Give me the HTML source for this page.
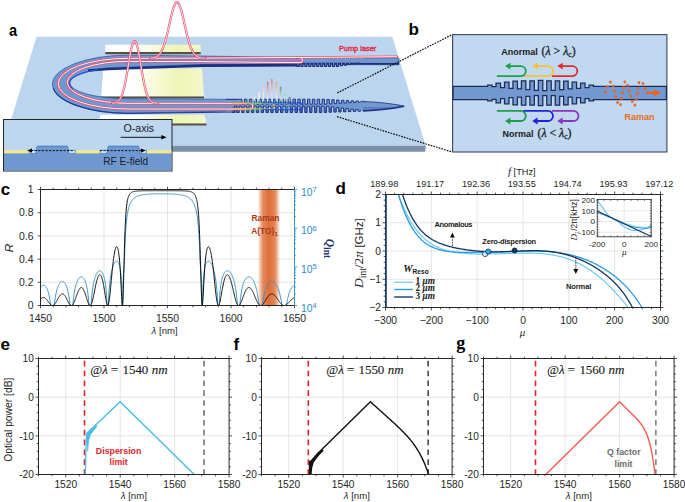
<!DOCTYPE html><html><head><meta charset="utf-8"><style>html,body{margin:0;padding:0;background:#fff;width:685px;height:502px;overflow:hidden;}svg{display:block;font-family:"Liberation Sans",sans-serif;}</style></head><body><svg width="685" height="502" viewBox="0 0 685 502"><rect width="685" height="502" fill="#fff"/>
<polygon points="36.5,36.7 392.3,36.7 425.7,145.8 3,145.8" fill="#bcd5ee"/>
<polygon points="3,145.8 425.7,145.8 425.2,151.7 3,151.7" fill="#7b91aa"/>
<defs><linearGradient id="elg" x1="0" x2="1" y1="0" y2="0"><stop offset="0" stop-color="#ffffff"/><stop offset="0.3" stop-color="#ffffff"/><stop offset="0.75" stop-color="#eef5b4"/><stop offset="1" stop-color="#f4f7cc"/></linearGradient></defs>
<polygon points="105.3,44.8 200.7,44.8 200.7,52.0 105.3,52.0" fill="url(#elg)"/>
<polygon points="105.3,52.0 200.7,52.0 200.7,54.2 105.3,54.2" fill="#57523f"/>
<polygon points="103.3,68.6 202,68.6 204,96.4 101.2,96.4" fill="url(#elg)"/>
<polygon points="101.2,96.4 204,96.4 204,98.60000000000001 101.2,98.60000000000001" fill="#57523f"/>
<polygon points="100,114.8 204.5,114.8 206.5,123.4 99.5,123.4" fill="url(#elg)"/>
<polygon points="99.5,123.4 206.5,123.4 206.5,125.60000000000001 99.5,125.60000000000001" fill="#57523f"/>
<path d="M399,58.0 L300,57.6 L200,56 L128,55.15 A75.7,29.1 0 0 0 128,113.35 L230,111 L238,111 L238,99.4 L128,98.7 A58.2,15.8 0 0 1 128,67.10000000000001 L200,64.5 L300,64.5 L399,64.8 Z" fill="#7098d0" stroke="#2d4f9e" stroke-width="0.7"/>
<path d="M88,69.30000000000001 Q118,67.10000000000001 128,67.10000000000001 L200,64.6 L300,64.6 L300,66.6 L200,67 L128,69.50000000000001 Q108,69.7 88,71.7 Z" fill="#1c2f7e"/>
<path d="M72.8,88.9 A58.2,15.8 0 0 1 98,69.7" fill="none" stroke="#2258d8" stroke-width="1.2"/>
<path d="M53.3,88.25 A75.7,29.1 0 0 0 128,113.35 L238,112" fill="none" stroke="#1f3d96" stroke-width="1.2"/>
<path d="M200,64.4 L300,63.6 L300,62.9 L399,63.0 L399,64.8 L300,64.4 L200,67 Z" fill="#1c2f7e"/>
<path d="M297,63.2 L297,66.4 L299,66.4 L299,63.2 L300.95,63.2 L300.95,66.4 L302.95,66.4 L302.95,63.2 L304.9,63.2 L304.9,66.4 L306.9,66.4 L306.9,63.2 L308.85,63.2 L308.85,66.4 L310.85,66.4 L310.85,63.2 L312.8,63.2 L312.8,66.4 L314.8,66.4 L314.8,63.2 L316.75,63.2 L316.75,66.4 L318.75,66.4 L318.75,63.2 L320.7,63.2 L320.7,66.4 L322.7,66.4 L322.7,63.2 L324.65,63.2 L324.65,66.4 L326.65,66.4 L326.65,63.2 L328.6,63.2 L328.6,66.4 L330.6,66.4 L330.6,63.2 L332.55,63.2 L332.55,66.4 L334.55,66.4 L334.55,63.2 L336.5,63.2 L336.5,66.4 L338.5,66.4 L338.5,63.2 L340.45,63.2 L340.45,65.76 L342.45,65.76 L342.45,63.2 L344.4,63.2 L344.4,65.12 L346.4,65.12 L346.4,63.2 L348.35,63.2 L348.35,64.48 L350.35,64.48 L350.35,63.2 L352.3,63.2 L352.3,63.84 L354.3,63.84 L354.3,63.2 L356.25,63.2 L356.25,63.2 L358.25,63.2 L358.25,63.2 L360.2,63.2 L360.2,62 L297,62 Z" fill="#6a8fcb"/>
<path d="M297,63.2 L297,66.4 L299,66.4 L299,63.2 L300.95,63.2 L300.95,66.4 L302.95,66.4 L302.95,63.2 L304.9,63.2 L304.9,66.4 L306.9,66.4 L306.9,63.2 L308.85,63.2 L308.85,66.4 L310.85,66.4 L310.85,63.2 L312.8,63.2 L312.8,66.4 L314.8,66.4 L314.8,63.2 L316.75,63.2 L316.75,66.4 L318.75,66.4 L318.75,63.2 L320.7,63.2 L320.7,66.4 L322.7,66.4 L322.7,63.2 L324.65,63.2 L324.65,66.4 L326.65,66.4 L326.65,63.2 L328.6,63.2 L328.6,66.4 L330.6,66.4 L330.6,63.2 L332.55,63.2 L332.55,66.4 L334.55,66.4 L334.55,63.2 L336.5,63.2 L336.5,66.4 L338.5,66.4 L338.5,63.2 L340.45,63.2 L340.45,65.76 L342.45,65.76 L342.45,63.2 L344.4,63.2 L344.4,65.12 L346.4,65.12 L346.4,63.2 L348.35,63.2 L348.35,64.48 L350.35,64.48 L350.35,63.2 L352.3,63.2 L352.3,63.84 L354.3,63.84 L354.3,63.2 L356.25,63.2 L356.25,63.2 L358.25,63.2 L358.25,63.2 L360.2,63.2" fill="none" stroke="#1c2f7e" stroke-width="1.1"/>
<path d="M306,56.4 L306,58.6 M309.95,56.4 L309.95,58.6 M313.9,56.4 L313.9,58.6 M317.85,56.4 L317.85,58.6 M321.8,56.4 L321.8,58.6 M325.75,56.4 L325.75,58.6 M329.7,56.4 L329.7,58.6 M333.65,56.4 L333.65,58.6 M337.6,56.4 L337.6,58.6 M341.55,56.4 L341.55,58.6 M345.5,56.4 L345.5,58.6 M349.45,56.4 L349.45,58.6 M353.4,56.4 L353.4,58.6 M357.35,56.4 L357.35,58.6 M361.3,56.4 L361.3,58.6" stroke="#ffffff" stroke-width="0.9" opacity="0.75"/>
<path d="M226,99.4 L239,99.4 L239.6,99.2 L242.03,99.2 L242.03,104.2 L244.45,104.2 L244.45,99.2 L246.88,99.2 L246.88,104.2 L249.3,104.2 L249.3,99.2 L251.72,99.2 L251.72,104.2 L254.15,104.2 L254.15,99.2 L256.57,99.2 L256.57,104.2 L259,104.2 L259,99.2 L261.43,99.2 L261.43,104.2 L263.85,104.2 L263.85,99.2 L266.28,99.2 L266.28,104.2 L268.7,104.2 L268.7,99.2 L271.13,99.2 L271.13,104.2 L273.55,104.2 L273.55,99.2 L275.98,99.2 L275.98,104.2 L278.4,104.2 L278.4,99.2 L280.83,99.2 L280.83,104.2 L283.25,104.2 L283.25,99.2 L285.68,99.2 L285.68,104.2 L288.1,104.2 L288.1,99.2 L290.53,99.2 L290.53,104.2 L292.95,104.2 L292.95,99.2 L295.38,99.2 L295.38,104.2 L297.8,104.2 L297.8,99.2 L300.23,99.2 L300.23,104.2 L302.65,104.2 L302.65,99.2 L305.08,99.2 L305.08,104.2 L307.5,104.2 L307.5,99.2 L309.93,99.2 L309.93,104.2 L312.35,104.2 L312.35,99.2 L314.78,99.2 L314.78,104.2 L317.2,104.2 L317.2,99.2 L319.63,99.2 L319.63,104.2 L322.05,104.2 L322.05,99.2 L324.48,99.2 L324.48,104.2 L326.9,104.2 L326.9,99.47 L329.33,99.47 L329.33,103.91 L331.75,103.91 L331.75,99.73 L334.18,99.73 L334.18,103.62 L336.6,103.62 L336.6,100 L339.03,100 L339.03,103.34 L341.45,103.34 L341.45,100.26 L343.88,100.26 L343.88,103.05 L346.3,103.05 L346.3,100.53 L348.73,100.53 L348.73,102.76 L351.15,102.76 L351.15,100.79 L353.58,100.79 L353.58,102.48 L356,102.48 L356,101.05 L358.43,101.05 L358.43,102.19 L360.85,102.19 L360.85,101.31 L363.28,101.31 L363.28,101.91 L365.7,101.91 L363,101.6 L363,111 L362.95,110.14 L360.53,110.14 L360.53,111.27 L358.1,111.27 L358.1,109.61 L355.68,109.61 L355.68,111.43 L353.25,111.43 L353.25,109.08 L350.83,109.08 L350.83,111.6 L348.4,111.6 L348.4,108.55 L345.98,108.55 L345.98,111.77 L343.55,111.77 L343.55,108.02 L341.13,108.02 L341.13,111.93 L338.7,111.93 L338.7,107.49 L336.28,107.49 L336.28,112.1 L333.85,112.1 L333.85,106.96 L331.43,106.96 L331.43,112.26 L329,112.26 L329,106.43 L326.58,106.43 L326.58,112.43 L324.15,112.43 L324.15,106.2 L321.73,106.2 L321.73,112.5 L319.3,112.5 L319.3,106.2 L316.88,106.2 L316.88,112.5 L314.45,112.5 L314.45,106.2 L312.03,106.2 L312.03,112.5 L309.6,112.5 L309.6,106.2 L307.18,106.2 L307.18,112.5 L304.75,112.5 L304.75,106.2 L302.33,106.2 L302.33,112.5 L299.9,112.5 L299.9,106.2 L297.48,106.2 L297.48,112.5 L295.05,112.5 L295.05,106.2 L292.63,106.2 L292.63,112.5 L290.2,112.5 L290.2,106.2 L287.78,106.2 L287.78,112.5 L285.35,112.5 L285.35,106.2 L282.93,106.2 L282.93,112.5 L280.5,112.5 L280.5,106.2 L278.08,106.2 L278.08,112.5 L275.65,112.5 L275.65,106.2 L273.23,106.2 L273.23,112.5 L270.8,112.5 L270.8,106.2 L268.38,106.2 L268.38,112.5 L265.95,112.5 L265.95,106.2 L263.53,106.2 L263.53,112.5 L261.1,112.5 L261.1,106.2 L258.68,106.2 L258.68,112.5 L256.25,112.5 L256.25,106.2 L253.82,106.2 L253.82,112.5 L251.4,112.5 L251.4,106.2 L248.97,106.2 L248.97,112.5 L246.55,112.5 L246.55,106.2 L244.12,106.2 L244.12,112.5 L241.7,112.5 L241.7,106.2 L239.28,106.2 L239.28,112.5 L236.85,112.5 L236.85,106.2 L234.43,106.2 L234.43,112.5 L232,112.5 L232,111.4 L226,111.4 Z" fill="#7098d0"/>
<path d="M232.3,107 L232.3,112.2 L234.12,112.2 L234.12,107 Z M237.15,107 L237.15,112.2 L238.97,112.2 L238.97,107 Z M242,107 L242,112.2 L243.82,112.2 L243.82,107 Z M246.85,107 L246.85,112.2 L248.67,112.2 L248.67,107 Z M251.7,107 L251.7,112.2 L253.52,112.2 L253.52,107 Z M256.55,107 L256.55,112.2 L258.38,112.2 L258.38,107 Z M261.4,107 L261.4,112.2 L263.23,112.2 L263.23,107 Z M266.25,107 L266.25,112.2 L268.08,112.2 L268.08,107 Z M271.1,107 L271.1,112.2 L272.93,112.2 L272.93,107 Z M275.95,107 L275.95,112.2 L277.78,112.2 L277.78,107 Z M280.8,107 L280.8,112.2 L282.63,112.2 L282.63,107 Z M285.65,107 L285.65,112.2 L287.48,112.2 L287.48,107 Z M290.5,107 L290.5,112.2 L292.33,112.2 L292.33,107 Z M295.35,107 L295.35,112.2 L297.18,112.2 L297.18,107 Z M300.2,107 L300.2,112.2 L302.03,112.2 L302.03,107 Z M305.05,107 L305.05,112.2 L306.88,112.2 L306.88,107 Z M309.9,107 L309.9,112.2 L311.73,112.2 L311.73,107 Z M314.75,107 L314.75,112.2 L316.58,112.2 L316.58,107 Z M319.6,107 L319.6,112.2 L321.43,112.2 L321.43,107 Z M324.45,107.23 L324.45,112.13 L326.28,112.13 L326.28,107.23 Z M329.3,107.76 L329.3,111.96 L331.13,111.96 L331.13,107.76 Z M334.15,108.29 L334.15,111.8 L335.98,111.8 L335.98,108.29 Z M339,108.82 L339,111.63 L340.83,111.63 L340.83,108.82 Z M343.85,109.35 L343.85,111.47 L345.68,111.47 L345.68,109.35 Z M348.7,109.88 L348.7,111.3 L350.53,111.3 L350.53,109.88 Z M353.55,110.41 L353.55,111.13 L355.38,111.13 L355.38,110.41 Z M358.4,110.94 L358.4,110.97 L360.23,110.97 L360.23,110.94 Z" fill="#4466b4"/>
<path d="M226,99.4 L239,99.4 L239.6,99.2 L242.03,99.2 L242.03,104.2 L244.45,104.2 L244.45,99.2 L246.88,99.2 L246.88,104.2 L249.3,104.2 L249.3,99.2 L251.72,99.2 L251.72,104.2 L254.15,104.2 L254.15,99.2 L256.57,99.2 L256.57,104.2 L259,104.2 L259,99.2 L261.43,99.2 L261.43,104.2 L263.85,104.2 L263.85,99.2 L266.28,99.2 L266.28,104.2 L268.7,104.2 L268.7,99.2 L271.13,99.2 L271.13,104.2 L273.55,104.2 L273.55,99.2 L275.98,99.2 L275.98,104.2 L278.4,104.2 L278.4,99.2 L280.83,99.2 L280.83,104.2 L283.25,104.2 L283.25,99.2 L285.68,99.2 L285.68,104.2 L288.1,104.2 L288.1,99.2 L290.53,99.2 L290.53,104.2 L292.95,104.2 L292.95,99.2 L295.38,99.2 L295.38,104.2 L297.8,104.2 L297.8,99.2 L300.23,99.2 L300.23,104.2 L302.65,104.2 L302.65,99.2 L305.08,99.2 L305.08,104.2 L307.5,104.2 L307.5,99.2 L309.93,99.2 L309.93,104.2 L312.35,104.2 L312.35,99.2 L314.78,99.2 L314.78,104.2 L317.2,104.2 L317.2,99.2 L319.63,99.2 L319.63,104.2 L322.05,104.2 L322.05,99.2 L324.48,99.2 L324.48,104.2 L326.9,104.2 L326.9,99.47 L329.33,99.47 L329.33,103.91 L331.75,103.91 L331.75,99.73 L334.18,99.73 L334.18,103.62 L336.6,103.62 L336.6,100 L339.03,100 L339.03,103.34 L341.45,103.34 L341.45,100.26 L343.88,100.26 L343.88,103.05 L346.3,103.05 L346.3,100.53 L348.73,100.53 L348.73,102.76 L351.15,102.76 L351.15,100.79 L353.58,100.79 L353.58,102.48 L356,102.48 L356,101.05 L358.43,101.05 L358.43,102.19 L360.85,102.19 L360.85,101.31 L363.28,101.31 L363.28,101.91 L365.7,101.91 L363,101.6" fill="none" stroke="#1c2f7e" stroke-width="0.95" stroke-linejoin="miter"/>
<path d="M363,111 L362.95,110.14 L360.53,110.14 L360.53,111.27 L358.1,111.27 L358.1,109.61 L355.68,109.61 L355.68,111.43 L353.25,111.43 L353.25,109.08 L350.83,109.08 L350.83,111.6 L348.4,111.6 L348.4,108.55 L345.98,108.55 L345.98,111.77 L343.55,111.77 L343.55,108.02 L341.13,108.02 L341.13,111.93 L338.7,111.93 L338.7,107.49 L336.28,107.49 L336.28,112.1 L333.85,112.1 L333.85,106.96 L331.43,106.96 L331.43,112.26 L329,112.26 L329,106.43 L326.58,106.43 L326.58,112.43 L324.15,112.43 L324.15,106.2 L321.73,106.2 L321.73,112.5 L319.3,112.5 L319.3,106.2 L316.88,106.2 L316.88,112.5 L314.45,112.5 L314.45,106.2 L312.03,106.2 L312.03,112.5 L309.6,112.5 L309.6,106.2 L307.18,106.2 L307.18,112.5 L304.75,112.5 L304.75,106.2 L302.33,106.2 L302.33,112.5 L299.9,112.5 L299.9,106.2 L297.48,106.2 L297.48,112.5 L295.05,112.5 L295.05,106.2 L292.63,106.2 L292.63,112.5 L290.2,112.5 L290.2,106.2 L287.78,106.2 L287.78,112.5 L285.35,112.5 L285.35,106.2 L282.93,106.2 L282.93,112.5 L280.5,112.5 L280.5,106.2 L278.08,106.2 L278.08,112.5 L275.65,112.5 L275.65,106.2 L273.23,106.2 L273.23,112.5 L270.8,112.5 L270.8,106.2 L268.38,106.2 L268.38,112.5 L265.95,112.5 L265.95,106.2 L263.53,106.2 L263.53,112.5 L261.1,112.5 L261.1,106.2 L258.68,106.2 L258.68,112.5 L256.25,112.5 L256.25,106.2 L253.82,106.2 L253.82,112.5 L251.4,112.5 L251.4,106.2 L248.97,106.2 L248.97,112.5 L246.55,112.5 L246.55,106.2 L244.12,106.2 L244.12,112.5 L241.7,112.5 L241.7,106.2 L239.28,106.2 L239.28,112.5 L236.85,112.5 L236.85,106.2 L234.43,106.2 L234.43,112.5 L232,112.5 L232,111.4" fill="none" stroke="#1c2f7e" stroke-width="0.95" stroke-linejoin="miter"/>
<path d="M360.5,101.6 L363,101.6 Q386,102.2 404.2,106.2 Q386,110.2 363,111 L360.5,111 Z" fill="#7399d2"/>
<path d="M362,101.6 L363,101.6 Q386,102.2 404.2,106.2" fill="none" stroke="#1c2f7e" stroke-width="0.8"/>
<path d="M363,106.8 Q386,107.4 404.2,106.2 Q386,109.6 363,110.6 Z" fill="#5a7fc2"/>
<path d="M363,110.9 Q386,110 404.2,106.2" fill="none" stroke="#1c2f7e" stroke-width="1.5"/>
<path d="M397,56.7 L300,57.5 L200,58.1 L128,58.3 A69.8,25.35 0 0 0 128,109 L250,109 A2.85,2.85 0 0 0 250,103.3 L128,103.3 A60.7,20.95 0 0 1 128,61.4 L200,61.6 L300,62.6 A2.55,2.55 0 0 0 300,57.5" fill="none" stroke="#e84a6a" stroke-width="2.3" stroke-linejoin="round" stroke-linecap="round"/>
<path d="M397,56.7 L300,57.5 L200,58.1 L128,58.3 A69.8,25.35 0 0 0 128,109 L250,109 A2.85,2.85 0 0 0 250,103.3 L128,103.3 A60.7,20.95 0 0 1 128,61.4 L200,61.6 L300,62.6 A2.55,2.55 0 0 0 300,57.5" fill="none" stroke="#ffffff" stroke-width="0.9499999999999997" stroke-linejoin="round"/>
<path d="M112,103.2 L112.58,103.16 L113.16,103.11 L113.75,103.04 L114.33,102.95 L114.91,102.83 L115.49,102.67 L116.08,102.47 L116.66,102.22 L117.24,101.9 L117.82,101.5 L118.41,101.01 L118.99,100.41 L119.57,99.68 L120.15,98.81 L120.73,97.77 L121.32,96.55 L121.9,95.14 L122.48,93.51 L123.06,91.65 L123.65,89.56 L124.23,87.23 L124.81,84.67 L125.39,81.89 L125.97,78.9 L126.56,75.72 L127.14,72.4 L127.72,68.97 L128.3,65.49 L128.89,62.01 L129.47,58.59 L130.05,55.3 L130.63,52.2 L131.22,49.37 L131.8,46.87 L132.38,44.75 L132.96,43.07 L133.54,41.87 L134.13,41.18 L134.71,41.01 L135.29,41.37 L135.87,42.26 L136.46,43.64 L137.04,45.49 L137.62,47.76 L138.2,50.4 L138.78,53.33 L139.37,56.51 L139.95,59.86 L140.53,63.31 L141.11,66.8 L141.7,70.26 L142.28,73.66 L142.86,76.93 L143.44,80.04 L144.03,82.96 L144.61,85.66 L145.19,88.13 L145.77,90.37 L146.35,92.37 L146.94,94.14 L147.52,95.69 L148.1,97.03 L148.68,98.18 L149.27,99.15 L149.85,99.97 L150.43,100.65 L151.01,101.21 L151.59,101.66 L152.18,102.03 L152.76,102.32 L153.34,102.55 L153.92,102.74 L154.51,102.88 L155.09,102.99 L155.67,103.07 L156.25,103.13 L156.84,103.18 L157.42,103.21 L158,103.24" fill="none" stroke="#e84a6a" stroke-width="2.2" stroke-linejoin="round" stroke-linecap="round"/>
<path d="M112,103.2 L112.58,103.16 L113.16,103.11 L113.75,103.04 L114.33,102.95 L114.91,102.83 L115.49,102.67 L116.08,102.47 L116.66,102.22 L117.24,101.9 L117.82,101.5 L118.41,101.01 L118.99,100.41 L119.57,99.68 L120.15,98.81 L120.73,97.77 L121.32,96.55 L121.9,95.14 L122.48,93.51 L123.06,91.65 L123.65,89.56 L124.23,87.23 L124.81,84.67 L125.39,81.89 L125.97,78.9 L126.56,75.72 L127.14,72.4 L127.72,68.97 L128.3,65.49 L128.89,62.01 L129.47,58.59 L130.05,55.3 L130.63,52.2 L131.22,49.37 L131.8,46.87 L132.38,44.75 L132.96,43.07 L133.54,41.87 L134.13,41.18 L134.71,41.01 L135.29,41.37 L135.87,42.26 L136.46,43.64 L137.04,45.49 L137.62,47.76 L138.2,50.4 L138.78,53.33 L139.37,56.51 L139.95,59.86 L140.53,63.31 L141.11,66.8 L141.7,70.26 L142.28,73.66 L142.86,76.93 L143.44,80.04 L144.03,82.96 L144.61,85.66 L145.19,88.13 L145.77,90.37 L146.35,92.37 L146.94,94.14 L147.52,95.69 L148.1,97.03 L148.68,98.18 L149.27,99.15 L149.85,99.97 L150.43,100.65 L151.01,101.21 L151.59,101.66 L152.18,102.03 L152.76,102.32 L153.34,102.55 L153.92,102.74 L154.51,102.88 L155.09,102.99 L155.67,103.07 L156.25,103.13 L156.84,103.18 L157.42,103.21 L158,103.24" fill="none" stroke="#ffffff" stroke-width="0.8500000000000001" stroke-linejoin="round"/>
<path d="M150,58.1 L150.7,58.06 L151.39,58.01 L152.09,57.94 L152.78,57.85 L153.48,57.73 L154.18,57.58 L154.87,57.39 L155.57,57.15 L156.27,56.84 L156.96,56.47 L157.66,56 L158.35,55.44 L159.05,54.76 L159.75,53.94 L160.44,52.98 L161.14,51.85 L161.84,50.55 L162.53,49.05 L163.23,47.36 L163.92,45.45 L164.62,43.34 L165.32,41.02 L166.01,38.51 L166.71,35.81 L167.41,32.96 L168.1,29.98 L168.8,26.92 L169.49,23.82 L170.19,20.72 L170.89,17.68 L171.58,14.76 L172.28,12.03 L172.97,9.53 L173.67,7.32 L174.37,5.46 L175.06,3.99 L175.76,2.94 L176.46,2.34 L177.15,2.21 L177.85,2.55 L178.54,3.34 L179.24,4.58 L179.94,6.23 L180.63,8.25 L181.33,10.59 L182.03,13.2 L182.72,16.02 L183.42,18.99 L184.11,22.06 L184.81,25.17 L185.51,28.27 L186.2,31.3 L186.9,34.22 L187.59,37.01 L188.29,39.63 L188.99,42.06 L189.68,44.29 L190.38,46.31 L191.08,48.12 L191.77,49.73 L192.47,51.14 L193.16,52.37 L193.86,53.42 L194.56,54.32 L195.25,55.07 L195.95,55.7 L196.65,56.22 L197.34,56.64 L198.04,56.99 L198.73,57.26 L199.43,57.48 L200.13,57.65 L200.82,57.79 L201.52,57.89 L202.22,57.97 L202.91,58.03 L203.61,58.08 L204.3,58.11 L205,58.14" fill="none" stroke="#e84a6a" stroke-width="2.2" stroke-linejoin="round" stroke-linecap="round"/>
<path d="M150,58.1 L150.7,58.06 L151.39,58.01 L152.09,57.94 L152.78,57.85 L153.48,57.73 L154.18,57.58 L154.87,57.39 L155.57,57.15 L156.27,56.84 L156.96,56.47 L157.66,56 L158.35,55.44 L159.05,54.76 L159.75,53.94 L160.44,52.98 L161.14,51.85 L161.84,50.55 L162.53,49.05 L163.23,47.36 L163.92,45.45 L164.62,43.34 L165.32,41.02 L166.01,38.51 L166.71,35.81 L167.41,32.96 L168.1,29.98 L168.8,26.92 L169.49,23.82 L170.19,20.72 L170.89,17.68 L171.58,14.76 L172.28,12.03 L172.97,9.53 L173.67,7.32 L174.37,5.46 L175.06,3.99 L175.76,2.94 L176.46,2.34 L177.15,2.21 L177.85,2.55 L178.54,3.34 L179.24,4.58 L179.94,6.23 L180.63,8.25 L181.33,10.59 L182.03,13.2 L182.72,16.02 L183.42,18.99 L184.11,22.06 L184.81,25.17 L185.51,28.27 L186.2,31.3 L186.9,34.22 L187.59,37.01 L188.29,39.63 L188.99,42.06 L189.68,44.29 L190.38,46.31 L191.08,48.12 L191.77,49.73 L192.47,51.14 L193.16,52.37 L193.86,53.42 L194.56,54.32 L195.25,55.07 L195.95,55.7 L196.65,56.22 L197.34,56.64 L198.04,56.99 L198.73,57.26 L199.43,57.48 L200.13,57.65 L200.82,57.79 L201.52,57.89 L202.22,57.97 L202.91,58.03 L203.61,58.08 L204.3,58.11 L205,58.14" fill="none" stroke="#ffffff" stroke-width="0.8500000000000001" stroke-linejoin="round"/>
<path d="M232,103.6 L271.5,103.6 A2.6,2.6 0 0 1 271.5,108.8 L232,108.8" fill="none" stroke="#f5c040" stroke-width="0.9"/>
<path d="M246,103.19999999999999 L285.5,103.19999999999999 A2.6,2.6 0 0 1 285.5,109.2 L246,109.2" fill="none" stroke="#50d080" stroke-width="0.9"/>
<path d="M262,102.8 L300,102.8 A2.6,2.6 0 0 1 300,109.6 L262,109.6" fill="none" stroke="#2040e8" stroke-width="0.9"/>
<defs>
<linearGradient id="cg0" x1="0" x2="0" y1="0" y2="1"><stop offset="0" stop-color="#ffffff"/><stop offset="1" stop-color="#ffffff" stop-opacity="0.6"/></linearGradient>
<linearGradient id="cg1" x1="0" x2="0" y1="0" y2="1"><stop offset="0" stop-color="#fbe8e8"/><stop offset="1" stop-color="#ffffff" stop-opacity="0.6"/></linearGradient>
<linearGradient id="cg2" x1="0" x2="0" y1="0" y2="1"><stop offset="0" stop-color="#f1c9b8"/><stop offset="1" stop-color="#ffffff" stop-opacity="0.6"/></linearGradient>
<linearGradient id="cg3" x1="0" x2="0" y1="0" y2="1"><stop offset="0" stop-color="#e06777"/><stop offset="1" stop-color="#ffffff" stop-opacity="0.6"/></linearGradient>
<linearGradient id="cg4" x1="0" x2="0" y1="0" y2="1"><stop offset="0" stop-color="#e37d8a"/><stop offset="1" stop-color="#ffffff" stop-opacity="0.6"/></linearGradient>
<linearGradient id="cg5" x1="0" x2="0" y1="0" y2="1"><stop offset="0" stop-color="#deb060"/><stop offset="1" stop-color="#ffffff" stop-opacity="0.6"/></linearGradient>
<linearGradient id="cg6" x1="0" x2="0" y1="0" y2="1"><stop offset="0" stop-color="#5f8f65"/><stop offset="1" stop-color="#ffffff" stop-opacity="0.6"/></linearGradient>
<linearGradient id="cg7" x1="0" x2="0" y1="0" y2="1"><stop offset="0" stop-color="#6fd496"/><stop offset="1" stop-color="#ffffff" stop-opacity="0.6"/></linearGradient>
<linearGradient id="cg8" x1="0" x2="0" y1="0" y2="1"><stop offset="0" stop-color="#404848"/><stop offset="1" stop-color="#ffffff" stop-opacity="0.6"/></linearGradient>
</defs>
<rect x="253.7" y="97.1" width="1.6" height="3.9" fill="url(#cg0)"/>
<rect x="258.2" y="92" width="1.6" height="9" fill="url(#cg1)"/>
<rect x="262.7" y="86.9" width="1.6" height="14.1" fill="url(#cg2)"/>
<rect x="266.9" y="81.9" width="1.6" height="19.1" fill="url(#cg3)"/>
<rect x="271" y="79.1" width="1.6" height="21.9" fill="url(#cg4)"/>
<rect x="275.6" y="82" width="1.6" height="19" fill="url(#cg5)"/>
<rect x="279.8" y="86.9" width="1.6" height="14.1" fill="url(#cg6)"/>
<rect x="284.1" y="94" width="1.6" height="7" fill="url(#cg7)"/>
<rect x="288.8" y="97.1" width="1.6" height="3.9" fill="url(#cg8)"/>
<text x="338.9" y="50.9" font-size="7.4" text-anchor="start" font-weight="normal" font-style="normal" fill="#e8213f" font-family="Liberation Sans" stroke="#e8213f" stroke-width="0.35">Pump laser</text>
<text transform="translate(9.0,35.8) scale(0.86,1)" font-size="17" font-weight="bold" fill="#000" font-family="Liberation Sans">a</text>
<rect x="3.5" y="119.5" width="168.5" height="51.5" fill="#bdd7ee" stroke="#262626" stroke-width="1"/>
<rect x="4" y="153.2" width="167.5" height="17.4" fill="#7098d0"/>
<rect x="4" y="150.2" width="167.5" height="3.1" fill="#f5e98a"/>
<rect x="29.2" y="150.2" width="7.4" height="3.1" fill="#d6e7f7" stroke="#3a7ac8" stroke-width="0.7"/>
<rect x="68.2" y="150.2" width="7.1" height="3.1" fill="#d6e7f7" stroke="#3a7ac8" stroke-width="0.7"/>
<polygon points="35.800000000000004,153.4 37.2,146.1 67.60000000000001,146.1 69.0,153.4" fill="#7098d0" stroke="#3a7ac8" stroke-width="0.8"/>
<rect x="36.6" y="151.5" width="31.6" height="2.5" fill="#7098d0"/>
<rect x="100.2" y="150.2" width="7.4" height="3.1" fill="#d6e7f7" stroke="#3a7ac8" stroke-width="0.7"/>
<rect x="139.2" y="150.2" width="7.1" height="3.1" fill="#d6e7f7" stroke="#3a7ac8" stroke-width="0.7"/>
<polygon points="106.8,153.4 108.19999999999999,146.1 138.6,146.1 140.0,153.4" fill="#7098d0" stroke="#3a7ac8" stroke-width="0.8"/>
<rect x="107.6" y="151.5" width="31.6" height="2.5" fill="#7098d0"/>
<line x1="31" y1="150.6" x2="74" y2="150.6" stroke="#000" stroke-width="0.9" stroke-dasharray="2.2,1.4"/>
<polygon points="27.2,150.6 32,148.4 32,152.8" fill="#000"/>
<line x1="99.8" y1="150.6" x2="141.5" y2="150.6" stroke="#000" stroke-width="0.9" stroke-dasharray="2.2,1.4"/>
<polygon points="145.6,150.6 140.8,148.4 140.8,152.8" fill="#000"/>
<text x="103.3" y="164.7" font-size="10.1" text-anchor="start" font-weight="normal" font-style="normal" fill="#1b1b2b" font-family="Liberation Sans" >RF E-field</text>
<text x="123.5" y="132" font-size="10.6" text-anchor="start" font-weight="normal" font-style="normal" fill="#1b1b2b" font-family="Liberation Sans" >O-axis</text>
<line x1="120.7" y1="137.3" x2="162" y2="137.3" stroke="#000" stroke-width="0.9"/>
<polygon points="166.6,137.3 161.4,135.1 161.4,139.5" fill="#000"/>
<line x1="337.3" y1="92.9" x2="452.2" y2="34.6" stroke="#111" stroke-width="1.2" stroke-dasharray="1.7,1.1"/>
<line x1="337" y1="116.6" x2="452.2" y2="152" stroke="#111" stroke-width="1.2" stroke-dasharray="1.7,1.1"/>
<text x="408.4" y="35.4" font-size="17" text-anchor="start" font-weight="bold" font-style="normal" fill="#000" font-family="Liberation Sans" >b</text>
<rect x="452.6" y="34.6" width="214.3" height="117.4" fill="#c0d9f1" stroke="#3b4862" stroke-width="1.1"/>
<path d="M453.1,86.4 L487.6,86.4 L487.6,86.4 L487.6,85.1 L492.1,85.1 L492.1,86.6 L496.05,86.6 L496.05,86.4 L496.05,83.1 L500.55,83.1 L500.55,87.5 L504.5,87.5 L504.5,86.4 L504.5,82.2 L509,82.2 L509,88.4 L512.95,88.4 L512.95,86.4 L512.95,81.1 L517.45,81.1 L517.45,88.8 L521.4,88.8 L521.4,86.4 L521.4,80.8 L525.9,80.8 L525.9,89.7 L529.85,89.7 L529.85,86.4 L529.85,80.8 L534.35,80.8 L534.35,90.3 L538.3,90.3 L538.3,86.4 L538.3,80.3 L542.8,80.3 L542.8,90.5 L546.75,90.5 L546.75,86.4 L546.75,80.8 L551.25,80.8 L551.25,90.3 L555.2,90.3 L555.2,86.4 L555.2,80.8 L559.7,80.8 L559.7,89.7 L563.65,89.7 L563.65,86.4 L563.65,81.1 L568.15,81.1 L568.15,88.8 L572.1,88.8 L572.1,86.4 L572.1,82.2 L576.6,82.2 L576.6,88.4 L580.55,88.4 L580.55,86.4 L580.55,83.1 L585.05,83.1 L585.05,87.5 L589,87.5 L589,86.4 L589,85.1 L593.5,85.1 L593.5,86.4 L592.8,86.4 L666.4,86.4 L666.4,99.6 L592.8,99.6 L593.5,99.6 L593.5,100.9 L589,100.9 L589,99.6 L589,98.5 L585.05,98.5 L585.05,102.9 L580.55,102.9 L580.55,99.6 L580.55,97.6 L576.6,97.6 L576.6,103.8 L572.1,103.8 L572.1,99.6 L572.1,97.2 L568.15,97.2 L568.15,104.9 L563.65,104.9 L563.65,99.6 L563.65,96.3 L559.7,96.3 L559.7,105.2 L555.2,105.2 L555.2,99.6 L555.2,95.7 L551.25,95.7 L551.25,105.2 L546.75,105.2 L546.75,99.6 L546.75,95.5 L542.8,95.5 L542.8,105.7 L538.3,105.7 L538.3,99.6 L538.3,95.7 L534.35,95.7 L534.35,105.2 L529.85,105.2 L529.85,99.6 L529.85,96.3 L525.9,96.3 L525.9,105.2 L521.4,105.2 L521.4,99.6 L521.4,97.2 L517.45,97.2 L517.45,104.9 L512.95,104.9 L512.95,99.6 L512.95,97.6 L509,97.6 L509,103.8 L504.5,103.8 L504.5,99.6 L504.5,98.5 L500.55,98.5 L500.55,102.9 L496.05,102.9 L496.05,99.6 L496.05,99.4 L492.1,99.4 L492.1,100.9 L487.6,100.9 L487.6,99.6 L487.6,99.6 L453.1,99.6 Z" fill="#7399d1" stroke="#1c2c58" stroke-width="1.25"/>
<path d="M552,76.1 L572.3,76.1 A5.0,5.0 0 0 0 572.3,66.1 L561.3,66.1" fill="none" stroke="#e8282a" stroke-width="1.8"/>
<polygon points="557.3,66.1 562.6999999999999,62.699999999999996 562.6999999999999,69.5" fill="#e8282a"/>
<path d="M523,76.1 L548.0,76.1 A5.0,5.0 0 0 0 548.0,66.1 L536.2,66.1" fill="none" stroke="#f5c232" stroke-width="1.8"/>
<polygon points="532.2,66.1 537.6,62.699999999999996 537.6,69.5" fill="#f5c232"/>
<path d="M496.9,76.1 L520.8,76.1 A5.0,5.0 0 0 0 520.8,66.1 L509,66.1" fill="none" stroke="#1e9e48" stroke-width="1.8"/>
<polygon points="505,66.1 510.4,62.699999999999996 510.4,69.5" fill="#1e9e48"/>
<path d="M552,110.9 L573.45,110.9 A5.049999999999997,5.049999999999997 0 0 1 573.45,121 L561.3,121" fill="none" stroke="#8a34c0" stroke-width="1.8"/>
<polygon points="557.3,121 562.6999999999999,117.6 562.6999999999999,124.4" fill="#8a34c0"/>
<path d="M523,110.9 L547.95,110.9 A5.049999999999997,5.049999999999997 0 0 1 547.95,121 L536.2,121" fill="none" stroke="#2222dd" stroke-width="1.8"/>
<polygon points="532.2,121 537.6,117.6 537.6,124.4" fill="#2222dd"/>
<path d="M496.9,110.9 L520.75,110.9 A5.049999999999997,5.049999999999997 0 0 1 520.75,121 L509,121" fill="none" stroke="#1e9e48" stroke-width="1.8"/>
<polygon points="505,121 510.4,117.6 510.4,124.4" fill="#1e9e48"/>
<text x="501.2" y="54.6" font-size="9" text-anchor="start" font-weight="bold" font-style="normal" fill="#1a1a1a" font-family="Liberation Sans" >Anormal</text>
<text x="541.6" y="54.6" font-size="11.8" text-anchor="start" font-weight="normal" font-style="normal" fill="#1a1a1a" font-family="Liberation Serif" stroke="#1a1a1a" stroke-width="0.3">(<tspan font-style="italic">λ</tspan> &gt; <tspan font-style="italic">λ</tspan><tspan font-size="7.5" dy="2">c</tspan><tspan dy="-2">)</tspan></text>
<text x="502.4" y="137.1" font-size="9" text-anchor="start" font-weight="bold" font-style="normal" fill="#1a1a1a" font-family="Liberation Sans" >Normal</text>
<text x="537.5" y="137.1" font-size="11.8" text-anchor="start" font-weight="normal" font-style="normal" fill="#1a1a1a" font-family="Liberation Serif" stroke="#1a1a1a" stroke-width="0.3">(<tspan font-style="italic">λ</tspan> &lt; <tspan font-style="italic">λ</tspan><tspan font-size="7.5" dy="2">c</tspan><tspan dy="-2">)</tspan></text>
<rect x="609.05" y="80.85" width="2.5" height="2.5" fill="#ea6420" transform="rotate(0 610.3 82.1)"/>
<rect x="606.05" y="85.45" width="2.5" height="2.5" fill="#ea6420" transform="rotate(37 607.3 86.7)"/>
<rect x="603.95" y="90.85" width="2.5" height="2.5" fill="#ea6420" transform="rotate(74 605.2 92.1)"/>
<rect x="612.15" y="84.75" width="2.5" height="2.5" fill="#ea6420" transform="rotate(21 613.4 86)"/>
<rect x="613.65" y="90.05" width="2.5" height="2.5" fill="#ea6420" transform="rotate(58 614.9 91.3)"/>
<rect x="614.75" y="95.75" width="2.5" height="2.5" fill="#ea6420" transform="rotate(5 616 97)"/>
<rect x="616.25" y="101.15" width="2.5" height="2.5" fill="#ea6420" transform="rotate(42 617.5 102.4)"/>
<rect x="619.25" y="103.35" width="2.5" height="2.5" fill="#ea6420" transform="rotate(79 620.5 104.6)"/>
<rect x="620.15" y="97.25" width="2.5" height="2.5" fill="#ea6420" transform="rotate(26 621.4 98.5)"/>
<rect x="621.15" y="91.65" width="2.5" height="2.5" fill="#ea6420" transform="rotate(63 622.4 92.9)"/>
<rect x="622.15" y="86.15" width="2.5" height="2.5" fill="#ea6420" transform="rotate(10 623.4 87.4)"/>
<rect x="623.55" y="80.65" width="2.5" height="2.5" fill="#ea6420" transform="rotate(47 624.8 81.9)"/>
<rect x="626.45" y="84.15" width="2.5" height="2.5" fill="#ea6420" transform="rotate(84 627.7 85.4)"/>
<rect x="627.95" y="89.85" width="2.5" height="2.5" fill="#ea6420" transform="rotate(31 629.2 91.1)"/>
<rect x="629.35" y="94.95" width="2.5" height="2.5" fill="#ea6420" transform="rotate(68 630.6 96.2)"/>
<rect x="631.05" y="100.25" width="2.5" height="2.5" fill="#ea6420" transform="rotate(15 632.3 101.5)"/>
<rect x="633.65" y="103.85" width="2.5" height="2.5" fill="#ea6420" transform="rotate(52 634.9 105.1)"/>
<rect x="635.15" y="98.05" width="2.5" height="2.5" fill="#ea6420" transform="rotate(89 636.4 99.3)"/>
<rect x="636.15" y="92.35" width="2.5" height="2.5" fill="#ea6420" transform="rotate(36 637.4 93.6)"/>
<rect x="636.85" y="87.05" width="2.5" height="2.5" fill="#ea6420" transform="rotate(73 638.1 88.3)"/>
<rect x="637.65" y="81.35" width="2.5" height="2.5" fill="#ea6420" transform="rotate(20 638.9 82.6)"/>
<rect x="641.75" y="82.15" width="2.5" height="2.5" fill="#ea6420" transform="rotate(57 643 83.4)"/>
<rect x="643.85" y="87.55" width="2.5" height="2.5" fill="#ea6420" transform="rotate(4 645.1 88.8)"/>
<line x1="646.1" y1="92.9" x2="655" y2="92.9" stroke="#ea6420" stroke-width="2.4"/>
<polygon points="661,92.9 654,89.2 654,96.6" fill="#ea6420"/>
<text x="624.4" y="119.6" font-size="9" text-anchor="start" font-weight="bold" font-style="normal" fill="#ea6a22" font-family="Liberation Sans" >Raman</text>
<line x1="104" y1="189.5" x2="104" y2="305.5" stroke="#dedede" stroke-width="0.8"/>
<line x1="167.5" y1="189.5" x2="167.5" y2="305.5" stroke="#dedede" stroke-width="0.8"/>
<line x1="231" y1="189.5" x2="231" y2="305.5" stroke="#dedede" stroke-width="0.8"/>
<line x1="40.5" y1="282.3" x2="294.5" y2="282.3" stroke="#dedede" stroke-width="0.8"/>
<line x1="40.5" y1="259.1" x2="294.5" y2="259.1" stroke="#dedede" stroke-width="0.8"/>
<line x1="40.5" y1="235.9" x2="294.5" y2="235.9" stroke="#dedede" stroke-width="0.8"/>
<line x1="40.5" y1="212.7" x2="294.5" y2="212.7" stroke="#dedede" stroke-width="0.8"/>
<defs><linearGradient id="ram" x1="0" x2="1" y1="0" y2="0"><stop offset="0" stop-color="#e27a45" stop-opacity="0.1"/><stop offset="0.22" stop-color="#e0733e" stop-opacity="0.85"/><stop offset="0.5" stop-color="#de6e38" stop-opacity="1"/><stop offset="0.78" stop-color="#e0733e" stop-opacity="0.85"/><stop offset="1" stop-color="#e27a45" stop-opacity="0.1"/></linearGradient></defs>
<rect x="258.2" y="189.5" width="21.6" height="116" fill="url(#ram)"/>
<polyline points="40.5,287.4 40.71,287.08 40.92,286.79 41.14,286.52 41.35,286.28 41.56,286.07 41.77,285.87 41.98,285.71 42.19,285.56 42.41,285.44 42.62,285.34 42.83,285.27 43.04,285.22 43.25,285.19 43.47,285.18 43.68,285.19 43.89,285.23 44.1,285.3 44.31,285.38 44.53,285.49 44.74,285.62 44.95,285.78 45.16,285.96 45.37,286.17 45.58,286.4 45.8,286.67 46.01,286.96 46.22,287.27 46.43,287.62 46.64,288 46.86,288.42 47.07,288.87 47.28,289.35 47.49,289.87 47.7,290.44 47.91,291.05 48.13,291.7 48.34,292.41 48.55,293.17 48.76,293.99 48.97,294.88 49.19,295.85 49.4,296.89 49.61,298.03 49.82,299.27 50.03,300.64 50.24,302.15 50.46,303.82 50.67,305.7 50.88,307.82 51.09,307.82 51.3,307.82 51.52,307.82 51.73,307.82 51.94,307.82 52.15,307.82 52.36,307.82 52.58,307.82 52.79,307.82 53,307.82 53.21,307.82 53.42,307.82 53.63,307.82 53.85,307.82 54.06,307.82 54.27,305.78 54.48,303.73 54.69,301.91 54.91,300.26 55.12,298.76 55.33,297.4 55.54,296.14 55.75,294.98 55.96,293.91 56.18,292.91 56.39,291.98 56.6,291.12 56.81,290.31 57.02,289.55 57.24,288.84 57.45,288.18 57.66,287.56 57.87,286.98 58.08,286.44 58.29,285.93 58.51,285.45 58.72,285.01 58.93,284.6 59.14,284.22 59.35,283.86 59.57,283.54 59.78,283.23 59.99,282.96 60.2,282.71 60.41,282.48 60.63,282.28 60.84,282.11 61.05,281.95 61.26,281.82 61.47,281.71 61.68,281.63 61.9,281.56 62.11,281.52 62.32,281.51 62.53,281.51 62.74,281.54 62.96,281.59 63.17,281.66 63.38,281.76 63.59,281.88 63.8,282.02 64.01,282.19 64.23,282.39 64.44,282.61 64.65,282.86 64.86,283.13 65.07,283.44 65.29,283.77 65.5,284.14 65.71,284.54 65.92,284.97 66.13,285.44 66.34,285.94 66.56,286.49 66.77,287.08 66.98,287.72 67.19,288.41 67.4,289.15 67.62,289.96 67.83,290.82 68.04,291.76 68.25,292.79 68.46,293.9 68.68,295.11 68.89,296.45 69.1,297.92 69.31,299.56 69.52,301.39 69.73,303.47 69.95,305.85 70.16,307.82 70.37,307.82 70.58,307.82 70.79,307.82 71.01,307.82 71.22,307.82 71.43,307.82 71.64,307.82 71.85,307.82 72.06,307.82 72.28,307.82 72.49,307.82 72.7,307.02 72.91,304.28 73.12,301.9 73.34,299.8 73.55,297.93 73.76,296.25 73.97,294.72 74.18,293.32 74.39,292.04 74.61,290.85 74.82,289.76 75.03,288.74 75.24,287.79 75.45,286.9 75.67,286.07 75.88,285.3 76.09,284.57 76.3,283.89 76.51,283.25 76.73,282.65 76.94,282.09 77.15,281.57 77.36,281.08 77.57,280.62 77.78,280.19 78,279.79 78.21,279.42 78.42,279.08 78.63,278.77 78.84,278.48 79.06,278.22 79.27,277.98 79.48,277.76 79.69,277.57 79.9,277.41 80.11,277.27 80.33,277.15 80.54,277.05 80.75,276.98 80.96,276.92 81.17,276.9 81.39,276.89 81.6,276.91 81.81,276.95 82.02,277.02 82.23,277.11 82.44,277.22 82.66,277.36 82.87,277.53 83.08,277.72 83.29,277.94 83.5,278.18 83.72,278.46 83.93,278.76 84.14,279.1 84.35,279.47 84.56,279.87 84.78,280.31 84.99,280.79 85.2,281.31 85.41,281.87 85.62,282.48 85.83,283.14 86.05,283.86 86.26,284.63 86.47,285.47 86.68,286.38 86.89,287.37 87.11,288.45 87.32,289.64 87.53,290.94 87.74,292.38 87.95,293.99 88.16,295.78 88.38,297.82 88.59,300.17 88.8,302.9 89.01,306.19 89.22,307.82 89.44,307.82 89.65,307.82 89.86,307.82 90.07,307.82 90.28,307.82 90.49,307.82 90.71,307.82 90.92,307.82 91.13,304.59 91.34,301.31 91.55,298.52 91.77,296.11 91.98,293.98 92.19,292.08 92.4,290.37 92.61,288.81 92.83,287.39 93.04,286.08 93.25,284.87 93.46,283.75 93.67,282.71 93.88,281.74 94.1,280.84 94.31,279.99 94.52,279.19 94.73,278.45 94.94,277.75 95.16,277.1 95.37,276.49 95.58,275.91 95.79,275.38 96,274.87 96.21,274.4 96.43,273.96 96.64,273.56 96.85,273.18 97.06,272.83 97.27,272.51 97.49,272.21 97.7,271.95 97.91,271.71 98.12,271.49 98.33,271.3 98.55,271.14 98.76,271 98.97,270.89 99.18,270.8 99.39,270.73 99.6,270.69 99.82,270.68 100.03,270.69 100.24,270.73 100.45,270.8 100.66,270.89 100.88,271.01 101.09,271.16 101.3,271.34 101.51,271.55 101.72,271.79 101.93,272.06 102.15,272.37 102.36,272.72 102.57,273.1 102.78,273.52 102.99,273.99 103.21,274.5 103.42,275.06 103.63,275.67 103.84,276.34 104.05,277.08 104.26,277.88 104.48,278.76 104.69,279.73 104.9,280.79 105.11,281.96 105.32,283.26 105.54,284.71 105.75,286.34 105.96,288.19 106.17,290.3 106.38,292.76 106.6,295.68 106.81,299.25 107.02,303.8 107.23,307.82 107.44,307.82 107.65,307.82 107.87,307.82 108.08,307.82 108.29,307.73 108.5,301.71 108.71,297.15 108.93,293.48 109.14,290.41 109.35,287.77 109.56,285.45 109.77,283.39 109.98,281.54 110.2,279.86 110.41,278.33 110.62,276.92 110.83,275.62 111.04,274.41 111.26,273.29 111.47,272.25 111.68,271.28 111.89,270.36 112.1,269.51 112.31,268.71 112.53,267.96 112.74,267.26 112.95,266.61 113.16,266 113.37,265.42 113.59,264.89 113.8,264.39 114.01,263.94 114.22,263.51 114.43,263.12 114.65,262.77 114.86,262.45 115.07,262.16 115.28,261.91 115.49,261.69 115.7,261.5 115.92,261.35 116.13,261.23 116.34,261.15 116.55,261.1 116.76,261.09 116.98,261.12 117.19,261.19 117.4,261.3 117.61,261.45 117.82,261.66 118.03,261.91 118.25,262.21 118.46,262.57 118.67,262.99 118.88,263.48 119.09,264.05 119.31,264.7 119.52,265.44 119.73,266.29 119.94,267.26 120.15,268.37 120.36,269.65 120.58,271.13 120.79,272.86 121,274.91 121.21,277.37 121.42,280.41 121.64,284.31 121.85,289.59 122.06,297.56 122.27,307.82 122.48,307.82 122.7,301.2 122.91,290.35 123.12,283.33 123.33,278.09 123.54,273.86 123.75,270.3 123.97,267.21 124.18,264.47 124.39,262.01 124.6,256.36 124.81,249.56 125.03,243.9 125.24,239.11 125.45,235.02 125.66,231.48 125.87,228.39 126.08,225.68 126.3,223.28 126.51,221.15 126.72,219.24 126.93,217.52 127.14,215.96 127.36,214.56 127.57,213.28 127.78,212.11 127.99,211.03 128.2,210.05 128.41,209.14 128.63,208.3 128.84,207.53 129.05,206.81 129.26,206.14 129.47,205.51 129.69,204.93 129.9,204.39 130.11,203.88 130.32,203.4 130.53,202.96 130.75,202.54 130.96,202.14 131.17,201.77 131.38,201.42 131.59,201.08 131.8,200.77 132.02,200.47 132.23,200.19 132.44,199.92 132.65,199.67 132.86,199.43 133.08,199.2 133.29,198.99 133.5,198.78 133.71,198.58 133.92,198.39 134.13,198.22 134.35,198.05 134.56,197.88 134.77,197.73 134.98,197.58 135.19,197.44 135.41,197.3 135.62,197.17 135.83,197.04 136.04,196.93 136.25,196.81 136.46,196.7 136.68,196.6 136.89,196.49 137.1,196.4 137.31,196.3 137.52,196.21 137.74,196.13 137.95,196.04 138.16,195.96 138.37,195.89 138.58,195.81 138.8,195.74 139.01,195.67 139.22,195.61 139.43,195.55 139.64,195.48 139.85,195.43 140.07,195.37 140.28,195.31 140.49,195.26 140.7,195.21 140.91,195.16 141.13,195.11 141.34,195.07 141.55,195.02 141.76,194.98 141.97,194.94 142.18,194.9 142.4,194.86 142.61,194.82 142.82,194.79 143.03,194.75 143.24,194.72 143.46,194.68 143.67,194.65 143.88,194.62 144.09,194.59 144.3,194.56 144.52,194.54 144.73,194.51 144.94,194.48 145.15,194.46 145.36,194.43 145.57,194.41 145.79,194.39 146,194.37 146.21,194.35 146.42,194.32 146.63,194.3 146.85,194.29 147.06,194.27 147.27,194.25 147.48,194.23 147.69,194.21 147.9,194.2 148.12,194.18 148.33,194.17 148.54,194.15 148.75,194.14 148.96,194.12 149.18,194.11 149.39,194.1 149.6,194.08 149.81,194.07 150.02,194.06 150.23,194.05 150.45,194.04 150.66,194.02 150.87,194.01 151.08,194 151.29,193.99 151.51,193.98 151.72,193.98 151.93,193.97 152.14,193.96 152.35,193.95 152.57,193.94 152.78,193.93 152.99,193.93 153.2,193.92 153.41,193.91 153.62,193.9 153.84,193.9 154.05,193.89 154.26,193.89 154.47,193.88 154.68,193.87 154.9,193.87 155.11,193.86 155.32,193.86 155.53,193.85 155.74,193.85 155.95,193.85 156.17,193.84 156.38,193.84 156.59,193.83 156.8,193.83 157.01,193.83 157.23,193.82 157.44,193.82 157.65,193.82 157.86,193.81 158.07,193.81 158.28,193.81 158.5,193.81 158.71,193.81 158.92,193.8 159.13,193.8 159.34,193.8 159.56,193.8 159.77,193.8 159.98,193.8 160.19,193.79 160.4,193.79 160.62,193.79 160.83,193.79 161.04,193.79 161.25,193.79 161.46,193.79 161.67,193.79 161.89,193.79 162.1,193.79 162.31,193.79 162.52,193.79 162.73,193.79 162.95,193.8 163.16,193.8 163.37,193.8 163.58,193.8 163.79,193.8 164,193.8 164.22,193.8 164.43,193.81 164.64,193.81 164.85,193.81 165.06,193.81 165.28,193.82 165.49,193.82 165.7,193.82 165.91,193.82 166.12,193.83 166.33,193.83 166.55,193.83 166.76,193.84 166.97,193.84 167.18,193.85 167.39,193.85 167.61,193.86 167.82,193.86 168.03,193.87 168.24,193.87 168.45,193.88 168.67,193.88 168.88,193.89 169.09,193.89 169.3,193.9 169.51,193.91 169.72,193.91 169.94,193.92 170.15,193.93 170.36,193.93 170.57,193.94 170.78,193.95 171,193.96 171.21,193.97 171.42,193.98 171.63,193.98 171.84,193.99 172.05,194 172.27,194.01 172.48,194.02 172.69,194.03 172.9,194.04 173.11,194.06 173.33,194.07 173.54,194.08 173.75,194.09 173.96,194.11 174.17,194.12 174.38,194.13 174.6,194.15 174.81,194.16 175.02,194.18 175.23,194.19 175.44,194.21 175.66,194.22 175.87,194.24 176.08,194.26 176.29,194.27 176.5,194.29 176.72,194.31 176.93,194.33 177.14,194.35 177.35,194.37 177.56,194.39 177.77,194.42 177.99,194.44 178.2,194.46 178.41,194.49 178.62,194.51 178.83,194.54 179.05,194.56 179.26,194.59 179.47,194.62 179.68,194.65 179.89,194.68 180.1,194.71 180.32,194.74 180.53,194.78 180.74,194.81 180.95,194.85 181.16,194.88 181.38,194.92 181.59,194.96 181.8,195 182.01,195.04 182.22,195.09 182.43,195.13 182.65,195.18 182.86,195.23 183.07,195.28 183.28,195.33 183.49,195.38 183.71,195.43 183.92,195.49 184.13,195.55 184.34,195.61 184.55,195.67 184.77,195.74 184.98,195.81 185.19,195.88 185.4,195.95 185.61,196.02 185.82,196.1 186.04,196.18 186.25,196.27 186.46,196.35 186.67,196.45 186.88,196.54 187.1,196.64 187.31,196.74 187.52,196.84 187.73,196.95 187.94,197.07 188.15,197.19 188.37,197.31 188.58,197.44 188.79,197.58 189,197.72 189.21,197.86 189.43,198.02 189.64,198.18 189.85,198.34 190.06,198.52 190.27,198.7 190.48,198.89 190.7,199.09 190.91,199.3 191.12,199.52 191.33,199.75 191.54,199.99 191.76,200.25 191.97,200.51 192.18,200.8 192.39,201.09 192.6,201.4 192.82,201.73 193.03,202.08 193.24,202.45 193.45,202.84 193.66,203.25 193.87,203.68 194.09,204.15 194.3,204.64 194.51,205.16 194.72,205.72 194.93,206.32 195.15,206.95 195.36,207.63 195.57,208.37 195.78,209.15 195.99,210 196.2,210.91 196.42,211.9 196.63,212.97 196.84,214.13 197.05,215.4 197.26,216.78 197.48,218.3 197.69,219.98 197.9,221.83 198.11,223.88 198.32,226.17 198.54,228.74 198.75,231.63 198.96,234.92 199.17,238.68 199.38,243.03 199.59,248.09 199.81,254.06 200.02,261.11 200.23,263.3 200.44,265.7 200.65,268.35 200.87,271.34 201.08,274.78 201.29,278.83 201.5,283.82 201.71,290.39 201.92,300.17 202.14,307.82 202.35,307.82 202.56,301.05 202.77,292.22 202.98,286.54 203.2,282.4 203.41,279.19 203.62,276.59 203.83,274.44 204.04,272.61 204.25,271.05 204.47,269.69 204.68,268.5 204.89,267.46 205.1,266.54 205.31,265.73 205.53,265.02 205.74,264.38 205.95,263.82 206.16,263.33 206.37,262.9 206.59,262.52 206.8,262.2 207.01,261.92 207.22,261.69 207.43,261.49 207.64,261.34 207.86,261.23 208.07,261.15 208.28,261.1 208.49,261.09 208.7,261.11 208.92,261.16 209.13,261.24 209.34,261.35 209.55,261.48 209.76,261.65 209.97,261.84 210.19,262.06 210.4,262.31 210.61,262.58 210.82,262.88 211.03,263.21 211.25,263.57 211.46,263.96 211.67,264.38 211.88,264.82 212.09,265.3 212.3,265.8 212.52,266.34 212.73,266.92 212.94,267.53 213.15,268.17 213.36,268.86 213.58,269.59 213.79,270.36 214,271.18 214.21,272.04 214.42,272.97 214.64,273.95 214.85,275 215.06,276.12 215.27,277.32 215.48,278.61 215.69,280.01 215.91,281.52 216.12,283.17 216.33,284.99 216.54,286.99 216.75,289.24 216.97,291.8 217.18,294.75 217.39,298.25 217.6,302.54 217.81,307.82 218.02,307.82 218.24,307.82 218.45,307.82 218.66,307.82 218.87,307.82 219.08,307.18 219.3,302.28 219.51,298.49 219.72,295.4 219.93,292.82 220.14,290.6 220.35,288.67 220.57,286.96 220.78,285.44 220.99,284.07 221.2,282.84 221.41,281.71 221.63,280.69 221.84,279.75 222.05,278.88 222.26,278.09 222.47,277.36 222.69,276.68 222.9,276.06 223.11,275.48 223.32,274.95 223.53,274.46 223.74,274.01 223.96,273.59 224.17,273.21 224.38,272.86 224.59,272.54 224.8,272.25 225.02,271.99 225.23,271.76 225.44,271.55 225.65,271.36 225.86,271.2 226.07,271.06 226.29,270.94 226.5,270.85 226.71,270.78 226.92,270.72 227.13,270.69 227.35,270.68 227.56,270.69 227.77,270.72 227.98,270.77 228.19,270.83 228.4,270.92 228.62,271.02 228.83,271.15 229.04,271.29 229.25,271.46 229.46,271.64 229.68,271.84 229.89,272.06 230.1,272.31 230.31,272.57 230.52,272.85 230.74,273.16 230.95,273.48 231.16,273.83 231.37,274.2 231.58,274.6 231.79,275.02 232.01,275.46 232.22,275.94 232.43,276.43 232.64,276.96 232.85,277.52 233.07,278.11 233.28,278.73 233.49,279.39 233.7,280.09 233.91,280.83 234.12,281.61 234.34,282.44 234.55,283.32 234.76,284.25 234.97,285.25 235.18,286.32 235.4,287.46 235.61,288.69 235.82,290.02 236.03,291.45 236.24,293.02 236.45,294.74 236.67,296.65 236.88,298.78 237.09,301.19 237.3,303.97 237.51,307.24 237.73,307.82 237.94,307.82 238.15,307.82 238.36,307.82 238.57,307.82 238.79,307.82 239,307.82 239.21,307.82 239.42,307.82 239.63,307.82 239.84,305.69 240.06,302.91 240.27,300.54 240.48,298.47 240.69,296.64 240.9,295 241.12,293.52 241.33,292.18 241.54,290.96 241.75,289.84 241.96,288.8 242.17,287.85 242.39,286.96 242.6,286.14 242.81,285.37 243.02,284.66 243.23,283.99 243.45,283.37 243.66,282.79 243.87,282.25 244.08,281.74 244.29,281.27 244.51,280.83 244.72,280.42 244.93,280.03 245.14,279.68 245.35,279.35 245.56,279.04 245.78,278.76 245.99,278.5 246.2,278.26 246.41,278.04 246.62,277.84 246.84,277.67 247.05,277.51 247.26,277.37 247.47,277.25 247.68,277.15 247.89,277.06 248.11,276.99 248.32,276.94 248.53,276.91 248.74,276.89 248.95,276.89 249.17,276.91 249.38,276.94 249.59,276.99 249.8,277.06 250.01,277.14 250.22,277.23 250.44,277.35 250.65,277.48 250.86,277.62 251.07,277.79 251.28,277.97 251.5,278.17 251.71,278.38 251.92,278.61 252.13,278.86 252.34,279.13 252.56,279.42 252.77,279.73 252.98,280.05 253.19,280.4 253.4,280.77 253.61,281.16 253.83,281.57 254.04,282.01 254.25,282.47 254.46,282.95 254.67,283.47 254.89,284.01 255.1,284.58 255.31,285.18 255.52,285.82 255.73,286.49 255.94,287.2 256.16,287.95 256.37,288.74 256.58,289.59 256.79,290.48 257,291.43 257.22,292.45 257.43,293.54 257.64,294.71 257.85,295.96 258.06,297.32 258.27,298.8 258.49,300.42 258.7,302.2 258.91,304.18 259.12,306.4 259.33,307.82 259.55,307.82 259.76,307.82 259.97,307.82 260.18,307.82 260.39,307.82 260.61,307.82 260.82,307.82 261.03,307.82 261.24,307.82 261.45,307.82 261.66,307.82 261.88,307.82 262.09,307.82 262.3,307.82 262.51,305.89 262.72,303.9 262.94,302.13 263.15,300.54 263.36,299.1 263.57,297.78 263.78,296.57 263.99,295.46 264.21,294.43 264.42,293.48 264.63,292.59 264.84,291.76 265.05,290.98 265.27,290.26 265.48,289.58 265.69,288.94 265.9,288.34 266.11,287.78 266.32,287.25 266.54,286.76 266.75,286.29 266.96,285.85 267.17,285.44 267.38,285.06 267.6,284.7 267.81,284.36 268.02,284.04 268.23,283.75 268.44,283.48 268.66,283.22 268.87,282.99 269.08,282.78 269.29,282.58 269.5,282.4 269.71,282.24 269.93,282.09 270.14,281.97 270.35,281.85 270.56,281.76 270.77,281.68 270.99,281.61 271.2,281.56 271.41,281.53 271.62,281.51 271.83,281.5 272.04,281.51 272.26,281.54 272.47,281.58 272.68,281.63 272.89,281.7 273.1,281.78 273.32,281.88 273.53,282 273.74,282.12 273.95,282.27 274.16,282.42 274.37,282.6 274.59,282.79 274.8,282.99 275.01,283.21 275.22,283.45 275.43,283.71 275.65,283.98 275.86,284.27 276.07,284.58 276.28,284.9 276.49,285.25 276.71,285.62 276.92,286 277.13,286.41 277.34,286.84 277.55,287.29 277.76,287.77 277.98,288.28 278.19,288.81 278.4,289.37 278.61,289.96 278.82,290.58 279.04,291.23 279.25,291.93 279.46,292.66 279.67,293.43 279.88,294.25 280.09,295.12 280.31,296.04 280.52,297.03 280.73,298.08 280.94,299.21 281.15,300.42 281.37,301.73 281.58,303.14 281.79,304.69 282,306.39 282.21,307.82 282.42,307.82 282.64,307.82 282.85,307.82 283.06,307.82 283.27,307.82 283.48,307.82 283.7,307.82 283.91,307.82 284.12,307.82 284.33,307.82 284.54,307.82 284.76,307.82 284.97,307.82 285.18,307.82 285.39,307.82 285.6,307.82 285.81,307.82 286.03,307.82 286.24,307.65 286.45,305.97 286.66,304.45 286.87,303.06 287.09,301.79 287.3,300.62 287.51,299.54 287.72,298.54 287.93,297.6 288.14,296.73 288.36,295.91 288.57,295.15 288.78,294.43 288.99,293.75 289.2,293.12 289.42,292.52 289.63,291.95 289.84,291.42 290.05,290.92 290.26,290.45 290.47,290 290.69,289.58 290.9,289.19 291.11,288.82 291.32,288.47 291.53,288.14 291.75,287.83 291.96,287.54 292.17,287.27 292.38,287.02 292.59,286.79 292.81,286.57 293.02,286.38 293.23,286.19 293.44,286.03 293.65,285.88 293.86,285.74 294.08,285.62 294.29,285.52 294.5,285.43" fill="none" stroke="#3794c6" stroke-width="1"/>
<polyline points="40.5,299.14 40.71,298.92 40.92,298.72 41.14,298.53 41.35,298.36 41.56,298.2 41.77,298.05 41.98,297.93 42.19,297.81 42.41,297.72 42.62,297.64 42.83,297.58 43.04,297.54 43.25,297.51 43.47,297.51 43.68,297.52 43.89,297.55 44.1,297.6 44.31,297.67 44.53,297.75 44.74,297.86 44.95,297.98 45.16,298.12 45.37,298.28 45.58,298.45 45.8,298.64 46.01,298.84 46.22,299.05 46.43,299.28 46.64,299.52 46.86,299.78 47.07,300.04 47.28,300.31 47.49,300.58 47.7,300.87 47.91,301.16 48.13,301.45 48.34,301.74 48.55,302.03 48.76,302.32 48.97,302.61 49.19,302.89 49.4,303.17 49.61,303.44 49.82,303.7 50.03,303.94 50.24,304.18 50.46,304.4 50.67,304.6 50.88,304.79 51.09,304.95 51.3,305.1 51.52,305.23 51.73,305.33 51.94,305.41 52.15,305.46 52.36,305.49 52.58,305.5 52.79,305.48 53,305.43 53.21,305.36 53.42,305.26 53.63,305.13 53.85,304.98 54.06,304.81 54.27,304.61 54.48,304.39 54.69,304.14 54.91,303.88 55.12,303.6 55.33,303.29 55.54,302.97 55.75,302.64 55.96,302.29 56.18,301.93 56.39,301.56 56.6,301.19 56.81,300.8 57.02,300.42 57.24,300.02 57.45,299.63 57.66,299.24 57.87,298.86 58.08,298.47 58.29,298.1 58.51,297.73 58.72,297.37 58.93,297.02 59.14,296.68 59.35,296.36 59.57,296.06 59.78,295.77 59.99,295.49 60.2,295.24 60.41,295.01 60.63,294.8 60.84,294.61 61.05,294.44 61.26,294.29 61.47,294.17 61.68,294.08 61.9,294 62.11,293.96 62.32,293.94 62.53,293.94 62.74,293.97 62.96,294.03 63.17,294.11 63.38,294.22 63.59,294.36 63.8,294.51 64.01,294.7 64.23,294.91 64.44,295.14 64.65,295.39 64.86,295.67 65.07,295.96 65.29,296.28 65.5,296.61 65.71,296.96 65.92,297.33 66.13,297.71 66.34,298.11 66.56,298.51 66.77,298.93 66.98,299.35 67.19,299.77 67.4,300.2 67.62,300.63 67.83,301.05 68.04,301.47 68.25,301.89 68.46,302.29 68.68,302.68 68.89,303.06 69.1,303.41 69.31,303.75 69.52,304.07 69.73,304.35 69.95,304.62 70.16,304.85 70.37,305.05 70.58,305.21 70.79,305.34 71.01,305.43 71.22,305.49 71.43,305.5 71.64,305.47 71.85,305.4 72.06,305.3 72.28,305.14 72.49,304.95 72.7,304.72 72.91,304.45 73.12,304.14 73.34,303.8 73.55,303.42 73.76,303 73.97,302.56 74.18,302.09 74.39,301.59 74.61,301.07 74.82,300.52 75.03,299.96 75.24,299.39 75.45,298.8 75.67,298.2 75.88,297.6 76.09,296.99 76.3,296.39 76.51,295.78 76.73,295.18 76.94,294.59 77.15,294.01 77.36,293.44 77.57,292.89 77.78,292.35 78,291.83 78.21,291.34 78.42,290.87 78.63,290.42 78.84,290 79.06,289.61 79.27,289.25 79.48,288.92 79.69,288.62 79.9,288.36 80.11,288.13 80.33,287.93 80.54,287.78 80.75,287.65 80.96,287.57 81.17,287.52 81.39,287.52 81.6,287.55 81.81,287.62 82.02,287.72 82.23,287.87 82.44,288.06 82.66,288.28 82.87,288.55 83.08,288.85 83.29,289.19 83.5,289.56 83.72,289.97 83.93,290.41 84.14,290.89 84.35,291.4 84.56,291.94 84.78,292.51 84.99,293.1 85.2,293.71 85.41,294.35 85.62,295.01 85.83,295.68 86.05,296.36 86.26,297.05 86.47,297.74 86.68,298.43 86.89,299.12 87.11,299.8 87.32,300.46 87.53,301.11 87.74,301.73 87.95,302.32 88.16,302.88 88.38,303.39 88.59,303.86 88.8,304.28 89.01,304.65 89.22,304.95 89.44,305.19 89.65,305.37 89.86,305.47 90.07,305.5 90.28,305.45 90.49,305.33 90.71,305.13 90.92,304.85 91.13,304.49 91.34,304.05 91.55,303.54 91.77,302.96 91.98,302.32 92.19,301.61 92.4,300.83 92.61,300.01 92.83,299.13 93.04,298.21 93.25,297.25 93.46,296.26 93.67,295.24 93.88,294.2 94.1,293.15 94.31,292.09 94.52,291.02 94.73,289.96 94.94,288.9 95.16,287.86 95.37,286.83 95.58,285.83 95.79,284.85 96,283.89 96.21,282.98 96.43,282.09 96.64,281.25 96.85,280.45 97.06,279.69 97.27,278.98 97.49,278.32 97.7,277.7 97.91,277.14 98.12,276.64 98.33,276.18 98.55,275.79 98.76,275.45 98.97,275.17 99.18,274.96 99.39,274.8 99.6,274.7 99.82,274.67 100.03,274.7 100.24,274.8 100.45,274.96 100.66,275.19 100.88,275.48 101.09,275.85 101.3,276.27 101.51,276.77 101.72,277.34 101.93,277.97 102.15,278.67 102.36,279.44 102.57,280.28 102.78,281.18 102.99,282.14 103.21,283.17 103.42,284.25 103.63,285.39 103.84,286.58 104.05,287.82 104.26,289.1 104.48,290.41 104.69,291.75 104.9,293.09 105.11,294.45 105.32,295.79 105.54,297.12 105.75,298.4 105.96,299.64 106.17,300.8 106.38,301.88 106.6,302.85 106.81,303.69 107.02,304.4 107.23,304.94 107.44,305.31 107.65,305.48 107.87,305.46 108.08,305.23 108.29,304.78 108.5,304.11 108.71,303.23 108.93,302.14 109.14,300.85 109.35,299.38 109.56,297.73 109.77,295.92 109.98,293.98 110.2,291.93 110.41,289.78 110.62,287.56 110.83,285.3 111.04,283 111.26,280.69 111.47,278.39 111.68,276.12 111.89,273.88 112.1,271.69 112.31,269.57 112.53,267.51 112.74,265.53 112.95,263.64 113.16,261.84 113.37,260.13 113.59,258.51 113.8,256.99 114.01,255.58 114.22,254.26 114.43,253.05 114.65,251.94 114.86,250.94 115.07,250.03 115.28,249.23 115.49,248.54 115.7,247.95 115.92,247.47 116.13,247.1 116.34,246.84 116.55,246.69 116.76,246.66 116.98,246.75 117.19,246.97 117.4,247.32 117.61,247.81 117.82,248.44 118.03,249.23 118.25,250.19 118.46,251.32 118.67,252.65 118.88,254.18 119.09,255.93 119.31,257.93 119.52,260.18 119.73,262.7 119.94,265.51 120.15,268.63 120.36,272.05 120.58,275.76 120.79,279.75 121,283.96 121.21,288.3 121.42,292.63 121.64,296.76 121.85,300.43 122.06,303.33 122.27,305.11 122.48,305.43 122.7,304.04 122.91,300.82 123.12,295.86 123.33,289.41 123.54,281.88 123.75,273.72 123.97,265.38 124.18,257.23 124.39,249.55 124.6,242.49 124.81,236.13 125.03,230.49 125.24,225.53 125.45,221.21 125.66,217.45 125.87,214.2 126.08,211.39 126.3,208.95 126.51,206.85 126.72,205.02 126.93,203.44 127.14,202.05 127.36,200.85 127.57,199.8 127.78,198.87 127.99,198.06 128.2,197.34 128.41,196.71 128.63,196.15 128.84,195.65 129.05,195.21 129.26,194.81 129.47,194.46 129.69,194.14 129.9,193.86 130.11,193.6 130.32,193.37 130.53,193.16 130.75,192.97 130.96,192.8 131.17,192.65 131.38,192.5 131.59,192.37 131.8,192.26 132.02,192.15 132.23,192.05 132.44,191.96 132.65,191.87 132.86,191.8 133.08,191.73 133.29,191.66 133.5,191.6 133.71,191.54 133.92,191.49 134.13,191.45 134.35,191.4 134.56,191.36 134.77,191.32 134.98,191.29 135.19,191.25 135.41,191.22 135.62,191.19 135.83,191.17 136.04,191.14 136.25,191.12 136.46,191.09 136.68,191.07 136.89,191.05 137.1,191.04 137.31,191.02 137.52,191 137.74,190.99 137.95,190.97 138.16,190.96 138.37,190.95 138.58,190.94 138.8,190.92 139.01,190.91 139.22,190.9 139.43,190.89 139.64,190.88 139.85,190.88 140.07,190.87 140.28,190.86 140.49,190.85 140.7,190.85 140.91,190.84 141.13,190.83 141.34,190.83 141.55,190.82 141.76,190.82 141.97,190.81 142.18,190.81 142.4,190.8 142.61,190.8 142.82,190.79 143.03,190.79 143.24,190.78 143.46,190.78 143.67,190.78 143.88,190.77 144.09,190.77 144.3,190.77 144.52,190.76 144.73,190.76 144.94,190.76 145.15,190.76 145.36,190.75 145.57,190.75 145.79,190.75 146,190.75 146.21,190.74 146.42,190.74 146.63,190.74 146.85,190.74 147.06,190.74 147.27,190.74 147.48,190.73 147.69,190.73 147.9,190.73 148.12,190.73 148.33,190.73 148.54,190.73 148.75,190.72 148.96,190.72 149.18,190.72 149.39,190.72 149.6,190.72 149.81,190.72 150.02,190.72 150.23,190.72 150.45,190.72 150.66,190.72 150.87,190.71 151.08,190.71 151.29,190.71 151.51,190.71 151.72,190.71 151.93,190.71 152.14,190.71 152.35,190.71 152.57,190.71 152.78,190.71 152.99,190.71 153.2,190.71 153.41,190.71 153.62,190.71 153.84,190.7 154.05,190.7 154.26,190.7 154.47,190.7 154.68,190.7 154.9,190.7 155.11,190.7 155.32,190.7 155.53,190.7 155.74,190.7 155.95,190.7 156.17,190.7 156.38,190.7 156.59,190.7 156.8,190.7 157.01,190.7 157.23,190.7 157.44,190.7 157.65,190.7 157.86,190.7 158.07,190.7 158.28,190.7 158.5,190.7 158.71,190.7 158.92,190.7 159.13,190.7 159.34,190.7 159.56,190.7 159.77,190.7 159.98,190.7 160.19,190.7 160.4,190.7 160.62,190.7 160.83,190.7 161.04,190.7 161.25,190.7 161.46,190.7 161.67,190.7 161.89,190.7 162.1,190.7 162.31,190.7 162.52,190.7 162.73,190.7 162.95,190.7 163.16,190.7 163.37,190.7 163.58,190.7 163.79,190.7 164,190.7 164.22,190.7 164.43,190.7 164.64,190.7 164.85,190.7 165.06,190.7 165.28,190.7 165.49,190.7 165.7,190.7 165.91,190.7 166.12,190.7 166.33,190.7 166.55,190.7 166.76,190.7 166.97,190.7 167.18,190.7 167.39,190.7 167.61,190.7 167.82,190.7 168.03,190.7 168.24,190.7 168.45,190.7 168.67,190.7 168.88,190.7 169.09,190.7 169.3,190.7 169.51,190.71 169.72,190.71 169.94,190.71 170.15,190.71 170.36,190.71 170.57,190.71 170.78,190.71 171,190.71 171.21,190.71 171.42,190.71 171.63,190.71 171.84,190.71 172.05,190.71 172.27,190.71 172.48,190.72 172.69,190.72 172.9,190.72 173.11,190.72 173.33,190.72 173.54,190.72 173.75,190.72 173.96,190.72 174.17,190.72 174.38,190.72 174.6,190.73 174.81,190.73 175.02,190.73 175.23,190.73 175.44,190.73 175.66,190.73 175.87,190.73 176.08,190.74 176.29,190.74 176.5,190.74 176.72,190.74 176.93,190.74 177.14,190.75 177.35,190.75 177.56,190.75 177.77,190.75 177.99,190.75 178.2,190.76 178.41,190.76 178.62,190.76 178.83,190.76 179.05,190.77 179.26,190.77 179.47,190.77 179.68,190.78 179.89,190.78 180.1,190.78 180.32,190.79 180.53,190.79 180.74,190.8 180.95,190.8 181.16,190.8 181.38,190.81 181.59,190.81 181.8,190.82 182.01,190.82 182.22,190.83 182.43,190.84 182.65,190.84 182.86,190.85 183.07,190.85 183.28,190.86 183.49,190.87 183.71,190.88 183.92,190.89 184.13,190.89 184.34,190.9 184.55,190.91 184.77,190.92 184.98,190.93 185.19,190.95 185.4,190.96 185.61,190.97 185.82,190.98 186.04,191 186.25,191.01 186.46,191.03 186.67,191.05 186.88,191.06 187.1,191.08 187.31,191.1 187.52,191.12 187.73,191.15 187.94,191.17 188.15,191.2 188.37,191.22 188.58,191.25 188.79,191.29 189,191.32 189.21,191.36 189.43,191.39 189.64,191.43 189.85,191.48 190.06,191.53 190.27,191.58 190.48,191.63 190.7,191.69 190.91,191.76 191.12,191.83 191.33,191.9 191.54,191.98 191.76,192.07 191.97,192.16 192.18,192.27 192.39,192.38 192.6,192.5 192.82,192.63 193.03,192.78 193.24,192.93 193.45,193.11 193.66,193.3 193.87,193.51 194.09,193.74 194.3,193.99 194.51,194.27 194.72,194.58 194.93,194.92 195.15,195.3 195.36,195.72 195.57,196.19 195.78,196.72 195.99,197.31 196.2,197.97 196.42,198.71 196.63,199.55 196.84,200.49 197.05,201.56 197.26,202.78 197.48,204.15 197.69,205.72 197.9,207.51 198.11,209.55 198.32,211.89 198.54,214.56 198.75,217.62 198.96,221.11 199.17,225.08 199.38,229.6 199.59,234.69 199.81,240.4 200.02,246.71 200.23,253.59 200.44,260.94 200.65,268.59 200.87,276.28 201.08,283.71 201.29,290.52 201.5,296.33 201.71,300.84 201.92,303.86 202.14,305.33 202.35,305.32 202.56,304.01 202.77,301.66 202.98,298.55 203.2,294.92 203.41,291.02 203.62,287.01 203.83,283.05 204.04,279.21 204.25,275.57 204.47,272.16 204.68,269 204.89,266.1 205.1,263.45 205.31,261.06 205.53,258.9 205.74,256.96 205.95,255.23 206.16,253.7 206.37,252.35 206.59,251.16 206.8,250.14 207.01,249.27 207.22,248.53 207.43,247.93 207.64,247.45 207.86,247.09 208.07,246.84 208.28,246.7 208.49,246.66 208.7,246.72 208.92,246.88 209.13,247.12 209.34,247.47 209.55,247.9 209.76,248.41 209.97,249.02 210.19,249.71 210.4,250.49 210.61,251.36 210.82,252.3 211.03,253.34 211.25,254.45 211.46,255.65 211.67,256.94 211.88,258.3 212.09,259.74 212.3,261.27 212.52,262.87 212.73,264.54 212.94,266.28 213.15,268.09 213.36,269.96 213.58,271.89 213.79,273.86 214,275.88 214.21,277.92 214.42,279.99 214.64,282.07 214.85,284.14 215.06,286.19 215.27,288.22 215.48,290.2 215.69,292.12 215.91,293.96 216.12,295.7 216.33,297.35 216.54,298.86 216.75,300.25 216.97,301.49 217.18,302.57 217.39,303.49 217.6,304.23 217.81,304.81 218.02,305.21 218.24,305.44 218.45,305.5 218.66,305.4 218.87,305.14 219.08,304.74 219.3,304.2 219.51,303.54 219.72,302.77 219.93,301.9 220.14,300.95 220.35,299.92 220.57,298.84 220.78,297.72 220.99,296.55 221.2,295.37 221.41,294.17 221.63,292.97 221.84,291.77 222.05,290.58 222.26,289.42 222.47,288.27 222.69,287.16 222.9,286.08 223.11,285.04 223.32,284.05 223.53,283.09 223.74,282.19 223.96,281.33 224.17,280.52 224.38,279.76 224.59,279.06 224.8,278.4 225.02,277.8 225.23,277.26 225.44,276.76 225.65,276.32 225.86,275.93 226.07,275.6 226.29,275.32 226.5,275.09 226.71,274.91 226.92,274.78 227.13,274.7 227.35,274.67 227.56,274.69 227.77,274.76 227.98,274.88 228.19,275.05 228.4,275.26 228.62,275.52 228.83,275.82 229.04,276.16 229.25,276.55 229.46,276.99 229.68,277.46 229.89,277.97 230.1,278.52 230.31,279.11 230.52,279.74 230.74,280.4 230.95,281.1 231.16,281.82 231.37,282.58 231.58,283.37 231.79,284.18 232.01,285.01 232.22,285.87 232.43,286.74 232.64,287.63 232.85,288.54 233.07,289.45 233.28,290.37 233.49,291.3 233.7,292.22 233.91,293.14 234.12,294.06 234.34,294.96 234.55,295.85 234.76,296.72 234.97,297.57 235.18,298.39 235.4,299.18 235.61,299.94 235.82,300.66 236.03,301.34 236.24,301.98 236.45,302.57 236.67,303.11 236.88,303.6 237.09,304.03 237.3,304.42 237.51,304.74 237.73,305.01 237.94,305.22 238.15,305.37 238.36,305.46 238.57,305.5 238.79,305.48 239,305.41 239.21,305.28 239.42,305.1 239.63,304.87 239.84,304.6 240.06,304.28 240.27,303.93 240.48,303.53 240.69,303.1 240.9,302.65 241.12,302.16 241.33,301.65 241.54,301.11 241.75,300.56 241.96,300 242.17,299.42 242.39,298.84 242.6,298.25 242.81,297.66 243.02,297.07 243.23,296.48 243.45,295.9 243.66,295.33 243.87,294.76 244.08,294.21 244.29,293.67 244.51,293.14 244.72,292.64 244.93,292.15 245.14,291.68 245.35,291.23 245.56,290.81 245.78,290.41 245.99,290.03 246.2,289.67 246.41,289.35 246.62,289.04 246.84,288.77 247.05,288.52 247.26,288.3 247.47,288.1 247.68,287.94 247.89,287.8 248.11,287.68 248.32,287.6 248.53,287.55 248.74,287.52 248.95,287.52 249.17,287.54 249.38,287.6 249.59,287.68 249.8,287.79 250.01,287.92 250.22,288.08 250.44,288.26 250.65,288.47 250.86,288.7 251.07,288.96 251.28,289.24 251.5,289.54 251.71,289.86 251.92,290.2 252.13,290.56 252.34,290.94 252.56,291.33 252.77,291.75 252.98,292.17 253.19,292.62 253.4,293.07 253.61,293.54 253.83,294.01 254.04,294.5 254.25,294.99 254.46,295.49 254.67,295.99 254.89,296.49 255.1,297 255.31,297.51 255.52,298.01 255.73,298.51 255.94,299 256.16,299.49 256.37,299.97 256.58,300.43 256.79,300.89 257,301.33 257.22,301.76 257.43,302.16 257.64,302.55 257.85,302.93 258.06,303.28 258.27,303.6 258.49,303.91 258.7,304.19 258.91,304.44 259.12,304.67 259.33,304.87 259.55,305.04 259.76,305.19 259.97,305.31 260.18,305.4 260.39,305.46 260.61,305.49 260.82,305.5 261.03,305.48 261.24,305.43 261.45,305.36 261.66,305.26 261.88,305.13 262.09,304.98 262.3,304.81 262.51,304.62 262.72,304.41 262.94,304.18 263.15,303.93 263.36,303.66 263.57,303.38 263.78,303.09 263.99,302.78 264.21,302.47 264.42,302.14 264.63,301.81 264.84,301.47 265.05,301.13 265.27,300.78 265.48,300.43 265.69,300.08 265.9,299.73 266.11,299.38 266.32,299.04 266.54,298.7 266.75,298.37 266.96,298.04 267.17,297.72 267.38,297.4 267.6,297.1 267.81,296.81 268.02,296.53 268.23,296.26 268.44,296 268.66,295.76 268.87,295.52 269.08,295.31 269.29,295.11 269.5,294.92 269.71,294.75 269.93,294.59 270.14,294.45 270.35,294.33 270.56,294.22 270.77,294.13 270.99,294.06 271.2,294 271.41,293.96 271.62,293.94 271.83,293.94 272.04,293.95 272.26,293.98 272.47,294.02 272.68,294.08 272.89,294.16 273.1,294.25 273.32,294.36 273.53,294.49 273.74,294.62 273.95,294.78 274.16,294.95 274.37,295.13 274.59,295.32 274.8,295.53 275.01,295.75 275.22,295.98 275.43,296.22 275.65,296.47 275.86,296.73 276.07,297 276.28,297.28 276.49,297.56 276.71,297.85 276.92,298.15 277.13,298.45 277.34,298.76 277.55,299.07 277.76,299.38 277.98,299.69 278.19,300 278.4,300.32 278.61,300.63 278.82,300.94 279.04,301.24 279.25,301.54 279.46,301.84 279.67,302.13 279.88,302.41 280.09,302.68 280.31,302.95 280.52,303.2 280.73,303.45 280.94,303.68 281.15,303.91 281.37,304.12 281.58,304.31 281.79,304.5 282,304.67 282.21,304.82 282.42,304.96 282.64,305.08 282.85,305.19 283.06,305.28 283.27,305.36 283.48,305.42 283.7,305.46 283.91,305.49 284.12,305.5 284.33,305.49 284.54,305.47 284.76,305.44 284.97,305.38 285.18,305.32 285.39,305.23 285.6,305.14 285.81,305.03 286.03,304.91 286.24,304.77 286.45,304.63 286.66,304.47 286.87,304.3 287.09,304.13 287.3,303.94 287.51,303.75 287.72,303.55 287.93,303.34 288.14,303.13 288.36,302.91 288.57,302.69 288.78,302.47 288.99,302.24 289.2,302.01 289.42,301.78 289.63,301.55 289.84,301.32 290.05,301.1 290.26,300.87 290.47,300.65 290.69,300.43 290.9,300.22 291.11,300.01 291.32,299.81 291.53,299.61 291.75,299.42 291.96,299.23 292.17,299.05 292.38,298.88 292.59,298.72 292.81,298.57 293.02,298.43 293.23,298.29 293.44,298.17 293.65,298.06 293.86,297.95 294.08,297.86 294.29,297.78 294.5,297.7" fill="none" stroke="#111" stroke-width="1"/>
<rect x="40.5" y="306.0" width="256.0" height="4" fill="#fff"/>
<path d="M40.5,305.5 L40.5,189.5 L294.5,189.5" fill="none" stroke="#262626" stroke-width="1"/>
<line x1="40.5" y1="305.5" x2="294.5" y2="305.5" stroke="#262626" stroke-width="1"/>
<line x1="294.5" y1="189.5" x2="294.5" y2="305.5" stroke="#3794c6" stroke-width="1"/>
<path d="M40.5,305.5 L40.5,308.3 M40.5,189.5 L40.5,186.7 M53.2,305.5 L53.2,307.3 M53.2,189.5 L53.2,187.7 M65.9,305.5 L65.9,307.3 M65.9,189.5 L65.9,187.7 M78.6,305.5 L78.6,307.3 M78.6,189.5 L78.6,187.7 M91.3,305.5 L91.3,307.3 M91.3,189.5 L91.3,187.7 M104,305.5 L104,308.3 M104,189.5 L104,186.7 M116.7,305.5 L116.7,307.3 M116.7,189.5 L116.7,187.7 M129.4,305.5 L129.4,307.3 M129.4,189.5 L129.4,187.7 M142.1,305.5 L142.1,307.3 M142.1,189.5 L142.1,187.7 M154.8,305.5 L154.8,307.3 M154.8,189.5 L154.8,187.7 M167.5,305.5 L167.5,308.3 M167.5,189.5 L167.5,186.7 M180.2,305.5 L180.2,307.3 M180.2,189.5 L180.2,187.7 M192.9,305.5 L192.9,307.3 M192.9,189.5 L192.9,187.7 M205.6,305.5 L205.6,307.3 M205.6,189.5 L205.6,187.7 M218.3,305.5 L218.3,307.3 M218.3,189.5 L218.3,187.7 M231,305.5 L231,308.3 M231,189.5 L231,186.7 M243.7,305.5 L243.7,307.3 M243.7,189.5 L243.7,187.7 M256.4,305.5 L256.4,307.3 M256.4,189.5 L256.4,187.7 M269.1,305.5 L269.1,307.3 M269.1,189.5 L269.1,187.7 M281.8,305.5 L281.8,307.3 M281.8,189.5 L281.8,187.7 M294.5,305.5 L294.5,308.3 M294.5,189.5 L294.5,186.7 M40.5,305.5 L37.7,305.5 M40.5,282.3 L37.7,282.3 M40.5,259.1 L37.7,259.1 M40.5,235.9 L37.7,235.9 M40.5,212.7 L37.7,212.7 M40.5,189.5 L37.7,189.5" stroke="#262626" stroke-width="0.8"/>
<path d="M294.5,305.5 L297.3,305.5 M294.5,293.86 L296.1,293.86 M294.5,287.05 L296.1,287.05 M294.5,282.22 L296.1,282.22 M294.5,278.47 L296.1,278.47 M294.5,275.41 L296.1,275.41 M294.5,272.82 L296.1,272.82 M294.5,270.58 L296.1,270.58 M294.5,268.6 L296.1,268.6 M294.5,266.83 L297.3,266.83 M294.5,255.19 L296.1,255.19 M294.5,248.38 L296.1,248.38 M294.5,243.55 L296.1,243.55 M294.5,239.81 L296.1,239.81 M294.5,236.74 L296.1,236.74 M294.5,234.16 L296.1,234.16 M294.5,231.91 L296.1,231.91 M294.5,229.94 L296.1,229.94 M294.5,228.17 L297.3,228.17 M294.5,216.53 L296.1,216.53 M294.5,209.72 L296.1,209.72 M294.5,204.89 L296.1,204.89 M294.5,201.14 L296.1,201.14 M294.5,198.08 L296.1,198.08 M294.5,195.49 L296.1,195.49 M294.5,193.25 L296.1,193.25 M294.5,191.27 L296.1,191.27 M294.5,189.5 L297.3,189.5" stroke="#3794c6" stroke-width="0.8"/>
<text x="40.5" y="322.3" font-size="10.4" text-anchor="middle" font-weight="normal" font-style="normal" fill="#262626" font-family="Liberation Sans" >1450</text>
<text x="104" y="322.3" font-size="10.4" text-anchor="middle" font-weight="normal" font-style="normal" fill="#262626" font-family="Liberation Sans" >1500</text>
<text x="167.5" y="322.3" font-size="10.4" text-anchor="middle" font-weight="normal" font-style="normal" fill="#262626" font-family="Liberation Sans" >1550</text>
<text x="231" y="322.3" font-size="10.4" text-anchor="middle" font-weight="normal" font-style="normal" fill="#262626" font-family="Liberation Sans" >1600</text>
<text x="294.5" y="322.3" font-size="10.4" text-anchor="middle" font-weight="normal" font-style="normal" fill="#262626" font-family="Liberation Sans" >1650</text>
<text x="33.5" y="309.2" font-size="10.4" text-anchor="end" font-weight="normal" font-style="normal" fill="#262626" font-family="Liberation Sans" >0</text>
<text x="33.5" y="286" font-size="10.4" text-anchor="end" font-weight="normal" font-style="normal" fill="#262626" font-family="Liberation Sans" >0.2</text>
<text x="33.5" y="262.8" font-size="10.4" text-anchor="end" font-weight="normal" font-style="normal" fill="#262626" font-family="Liberation Sans" >0.4</text>
<text x="33.5" y="239.6" font-size="10.4" text-anchor="end" font-weight="normal" font-style="normal" fill="#262626" font-family="Liberation Sans" >0.6</text>
<text x="33.5" y="216.4" font-size="10.4" text-anchor="end" font-weight="normal" font-style="normal" fill="#262626" font-family="Liberation Sans" >0.8</text>
<text x="33.5" y="193.2" font-size="10.4" text-anchor="end" font-weight="normal" font-style="normal" fill="#262626" font-family="Liberation Sans" >1</text>
<text x="300.9" y="311.7" font-size="10.4" text-anchor="start" font-weight="normal" font-style="normal" fill="#2f8bc2" font-family="Liberation Sans" >10<tspan font-size="7.5" dy="-3.8">4</tspan></text>
<text x="300.9" y="273.03" font-size="10.4" text-anchor="start" font-weight="normal" font-style="normal" fill="#2f8bc2" font-family="Liberation Sans" >10<tspan font-size="7.5" dy="-3.8">5</tspan></text>
<text x="300.9" y="234.37" font-size="10.4" text-anchor="start" font-weight="normal" font-style="normal" fill="#2f8bc2" font-family="Liberation Sans" >10<tspan font-size="7.5" dy="-3.8">6</tspan></text>
<text x="300.9" y="195.7" font-size="10.4" text-anchor="start" font-weight="normal" font-style="normal" fill="#2f8bc2" font-family="Liberation Sans" >10<tspan font-size="7.5" dy="-3.8">7</tspan></text>
<text x="164.6" y="334.2" font-size="9.6" text-anchor="middle" font-weight="normal" font-style="normal" fill="#262626" font-family="Liberation Sans" ><tspan font-style="italic">λ</tspan> [nm]</text>
<text transform="translate(13.3,248) rotate(-90)" font-size="11.8" font-style="italic" font-family="Liberation Sans" fill="#262626" text-anchor="middle">R</text>
<text transform="translate(326.2,248.5) rotate(90)" font-size="11.5" font-style="italic" font-weight="bold" font-family="Liberation Serif" fill="#1f2d7a" text-anchor="middle">Q<tspan font-size="9.5" font-style="normal" dy="2.2">int</tspan></text>
<text x="265.5" y="221.3" font-size="8.4" text-anchor="middle" font-weight="bold" font-style="normal" fill="#a83a12" font-family="Liberation Sans" >Raman</text>
<text x="264.5" y="233.9" font-size="8.4" text-anchor="middle" font-weight="bold" font-style="normal" fill="#a83a12" font-family="Liberation Sans" >A(TO)<tspan font-size="6" dy="2">1</tspan></text>
<text x="0.8" y="194.9" font-size="17" text-anchor="start" font-weight="bold" font-style="normal" fill="#000" font-family="Liberation Sans" >c</text>
<line x1="431.33" y1="194.5" x2="431.33" y2="307.5" stroke="#dedede" stroke-width="0.8"/>
<line x1="477.17" y1="194.5" x2="477.17" y2="307.5" stroke="#dedede" stroke-width="0.8"/>
<line x1="523" y1="194.5" x2="523" y2="307.5" stroke="#dedede" stroke-width="0.8"/>
<line x1="568.83" y1="194.5" x2="568.83" y2="307.5" stroke="#dedede" stroke-width="0.8"/>
<line x1="614.67" y1="194.5" x2="614.67" y2="307.5" stroke="#dedede" stroke-width="0.8"/>
<line x1="385.5" y1="279.25" x2="660.5" y2="279.25" stroke="#dedede" stroke-width="0.8"/>
<line x1="385.5" y1="251" x2="660.5" y2="251" stroke="#dedede" stroke-width="0.8"/>
<line x1="385.5" y1="222.75" x2="660.5" y2="222.75" stroke="#dedede" stroke-width="0.8"/>
<clipPath id="dclip"><rect x="385.5" y="194.5" width="275.0" height="113.0"/></clipPath>
<g clip-path="url(#dclip)">
<polyline points="395.68,186.25 396.26,188.09 396.85,189.87 397.44,191.62 398.02,193.33 398.61,194.99 399.2,196.62 399.78,198.21 400.37,199.75 400.96,201.27 401.55,202.74 402.13,204.18 402.72,205.58 403.31,206.95 403.89,208.29 404.48,209.59 405.07,210.86 405.65,212.1 406.24,213.31 406.83,214.48 407.42,215.63 408,216.75 408.59,217.84 409.18,218.91 409.76,219.94 410.35,220.95 410.94,221.94 411.52,222.9 412.11,223.83 412.7,224.74 413.29,225.63 413.87,226.49 414.46,227.33 415.05,228.15 415.63,228.95 416.22,229.72 416.81,230.48 417.39,231.21 417.98,231.93 418.57,232.62 419.16,233.3 419.74,233.96 420.33,234.6 420.92,235.23 421.5,235.83 422.09,236.42 422.68,237 423.26,237.56 423.85,238.1 424.44,238.63 425.03,239.14 425.61,239.64 426.2,240.12 426.79,240.59 427.37,241.05 427.96,241.5 428.55,241.93 429.13,242.35 429.72,242.76 430.31,243.15 430.89,243.53 431.48,243.91 432.07,244.27 432.66,244.62 433.24,244.96 433.83,245.29 434.42,245.61 435,245.93 435.59,246.23 436.18,246.52 436.76,246.8 437.35,247.08 437.94,247.35 438.53,247.61 439.11,247.86 439.7,248.1 440.29,248.34 440.87,248.56 441.46,248.79 442.05,249 442.63,249.21 443.22,249.41 443.81,249.6 444.4,249.79 444.98,249.97 445.57,250.15 446.16,250.32 446.74,250.48 447.33,250.64 447.92,250.79 448.5,250.94 449.09,251.09 449.68,251.22 450.27,251.36 450.85,251.49 451.44,251.61 452.03,251.73 452.61,251.85 453.2,251.96 453.79,252.07 454.37,252.17 454.96,252.27 455.55,252.37 456.14,252.46 456.72,252.55 457.31,252.63 457.9,252.72 458.48,252.8 459.07,252.87 459.66,252.94 460.24,253.01 460.83,253.08 461.42,253.15 462.01,253.21 462.59,253.26 463.18,253.32 463.77,253.37 464.35,253.43 464.94,253.47 465.53,253.52 466.11,253.56 466.7,253.61 467.29,253.65 467.87,253.68 468.46,253.72 469.05,253.75 469.64,253.78 470.22,253.81 470.81,253.84 471.4,253.87 471.98,253.89 472.57,253.91 473.16,253.93 473.74,253.95 474.33,253.97 474.92,253.99 475.51,254 476.09,254.02 476.68,254.03 477.27,254.04 477.85,254.05 478.44,254.06 479.03,254.06 479.61,254.07 480.2,254.07 480.79,254.07 481.38,254.08 481.96,254.08 482.55,254.08 483.14,254.08 483.72,254.07 484.31,254.07 484.9,254.07 485.48,254.06 486.07,254.06 486.66,254.05 487.25,254.04 487.83,254.03 488.42,254.03 489.01,254.02 489.59,254.01 490.18,253.99 490.77,253.98 491.35,253.97 491.94,253.96 492.53,253.94 493.12,253.93 493.7,253.91 494.29,253.9 494.88,253.88 495.46,253.87 496.05,253.85 496.64,253.83 497.22,253.82 497.81,253.8 498.4,253.78 498.99,253.76 499.57,253.74 500.16,253.73 500.75,253.71 501.33,253.69 501.92,253.67 502.51,253.65 503.09,253.63 503.68,253.61 504.27,253.59 504.85,253.57 505.44,253.55 506.03,253.53 506.62,253.51 507.2,253.49 507.79,253.47 508.38,253.45 508.96,253.43 509.55,253.41 510.14,253.39 510.72,253.37 511.31,253.35 511.9,253.34 512.49,253.32 513.07,253.3 513.66,253.28 514.25,253.27 514.83,253.25 515.42,253.23 516.01,253.22 516.59,253.2 517.18,253.19 517.77,253.18 518.36,253.16 518.94,253.15 519.53,253.14 520.12,253.13 520.7,253.12 521.29,253.11 521.88,253.1 522.46,253.1 523.05,253.09 523.64,253.09 524.23,253.08 524.81,253.08 525.4,253.08 525.99,253.08 526.57,253.08 527.16,253.08 527.75,253.08 528.33,253.09 528.92,253.09 529.51,253.1 530.1,253.11 530.68,253.12 531.27,253.13 531.86,253.14 532.44,253.16 533.03,253.18 533.62,253.19 534.2,253.21 534.79,253.24 535.38,253.26 535.97,253.29 536.55,253.31 537.14,253.34 537.73,253.37 538.31,253.41 538.9,253.44 539.49,253.48 540.07,253.52 540.66,253.56 541.25,253.61 541.83,253.66 542.42,253.71 543.01,253.76 543.6,253.81 544.18,253.87 544.77,253.93 545.36,253.99 545.94,254.06 546.53,254.12 547.12,254.19 547.7,254.27 548.29,254.34 548.88,254.42 549.47,254.5 550.05,254.59 550.64,254.68 551.23,254.77 551.81,254.86 552.4,254.96 552.99,255.06 553.57,255.17 554.16,255.28 554.75,255.39 555.34,255.5 555.92,255.62 556.51,255.74 557.1,255.87 557.68,256 558.27,256.13 558.86,256.27 559.44,256.41 560.03,256.55 560.62,256.7 561.21,256.85 561.79,257.01 562.38,257.17 562.97,257.33 563.55,257.5 564.14,257.67 564.73,257.85 565.31,258.03 565.9,258.21 566.49,258.4 567.08,258.6 567.66,258.8 568.25,259 568.84,259.21 569.42,259.42 570.01,259.64 570.6,259.86 571.18,260.08 571.77,260.31 572.36,260.55 572.95,260.79 573.53,261.04 574.12,261.29 574.71,261.54 575.29,261.8 575.88,262.07 576.47,262.34 577.05,262.61 577.64,262.89 578.23,263.18 578.81,263.47 579.4,263.76 579.99,264.06 580.58,264.37 581.16,264.68 581.75,265 582.34,265.32 582.92,265.65 583.51,265.98 584.1,266.32 584.68,266.66 585.27,267.01 585.86,267.36 586.45,267.72 587.03,268.09 587.62,268.46 588.21,268.84 588.79,269.22 589.38,269.61 589.97,270 590.55,270.4 591.14,270.8 591.73,271.21 592.32,271.63 592.9,272.05 593.49,272.48 594.08,272.91 594.66,273.35 595.25,273.79 595.84,274.24 596.42,274.7 597.01,275.16 597.6,275.62 598.19,276.1 598.77,276.58 599.36,277.06 599.95,277.55 600.53,278.04 601.12,278.55 601.71,279.05 602.29,279.56 602.88,280.08 603.47,280.61 604.06,281.14 604.64,281.67 605.23,282.21 605.82,282.76 606.4,283.31 606.99,283.87 607.58,284.43 608.16,285 608.75,285.57 609.34,286.15 609.93,286.74 610.51,287.33 611.1,287.92 611.69,288.52 612.27,289.13 612.86,289.74 613.45,290.36 614.03,290.98 614.62,291.61 615.21,292.24 615.79,292.88 616.38,293.52 616.97,294.17 617.56,294.82 618.14,295.48 618.73,296.14 619.32,296.81 619.9,297.48 620.49,298.16 621.08,298.84 621.66,299.52 622.25,300.22 622.84,300.91 623.43,301.61 624.01,302.32 624.6,303.02 625.19,303.74 625.77,304.45 626.36,305.18 626.95,305.9 627.53,306.63 628.12,307.37 628.71,308.1 629.3,308.84 629.88,309.59" fill="none" stroke="#6ccbf2" stroke-width="1.2"/>
<polyline points="395.68,184.53 396.3,186.91 396.92,189.21 397.54,191.45 398.16,193.62 398.79,195.72 399.41,197.76 400.03,199.74 400.65,201.66 401.27,203.52 401.89,205.31 402.52,207.06 403.14,208.75 403.76,210.38 404.38,211.96 405,213.5 405.63,214.98 406.25,216.41 406.87,217.8 407.49,219.15 408.11,220.45 408.74,221.7 409.36,222.91 409.98,224.09 410.6,225.22 411.22,226.32 411.85,227.38 412.47,228.4 413.09,229.38 413.71,230.34 414.33,231.26 414.95,232.14 415.58,233 416.2,233.82 416.82,234.62 417.44,235.38 418.06,236.12 418.69,236.84 419.31,237.52 419.93,238.18 420.55,238.82 421.17,239.43 421.8,240.02 422.42,240.58 423.04,241.13 423.66,241.65 424.28,242.16 424.91,242.64 425.53,243.11 426.15,243.55 426.77,243.98 427.39,244.39 428.01,244.79 428.64,245.17 429.26,245.53 429.88,245.88 430.5,246.21 431.12,246.53 431.75,246.84 432.37,247.13 432.99,247.41 433.61,247.68 434.23,247.94 434.86,248.18 435.48,248.42 436.1,248.64 436.72,248.86 437.34,249.06 437.97,249.26 438.59,249.44 439.21,249.62 439.83,249.79 440.45,249.95 441.07,250.1 441.7,250.25 442.32,250.39 442.94,250.52 443.56,250.65 444.18,250.77 444.81,250.88 445.43,250.99 446.05,251.09 446.67,251.18 447.29,251.27 447.92,251.36 448.54,251.44 449.16,251.52 449.78,251.59 450.4,251.66 451.03,251.72 451.65,251.79 452.27,251.84 452.89,251.9 453.51,251.95 454.13,251.99 454.76,252.04 455.38,252.08 456,252.12 456.62,252.15 457.24,252.19 457.87,252.22 458.49,252.25 459.11,252.27 459.73,252.3 460.35,252.32 460.98,252.34 461.6,252.36 462.22,252.38 462.84,252.39 463.46,252.41 464.09,252.42 464.71,252.43 465.33,252.44 465.95,252.45 466.57,252.46 467.19,252.46 467.82,252.47 468.44,252.47 469.06,252.47 469.68,252.48 470.3,252.48 470.93,252.48 471.55,252.48 472.17,252.47 472.79,252.47 473.41,252.47 474.04,252.46 474.66,252.46 475.28,252.45 475.9,252.45 476.52,252.44 477.15,252.43 477.77,252.43 478.39,252.42 479.01,252.41 479.63,252.4 480.25,252.39 480.88,252.38 481.5,252.37 482.12,252.36 482.74,252.35 483.36,252.34 483.99,252.32 484.61,252.31 485.23,252.3 485.85,252.28 486.47,252.27 487.1,252.26 487.72,252.24 488.34,252.23 488.96,252.21 489.58,252.2 490.21,252.18 490.83,252.16 491.45,252.15 492.07,252.13 492.69,252.11 493.31,252.1 493.94,252.08 494.56,252.06 495.18,252.04 495.8,252.03 496.42,252.01 497.05,251.99 497.67,251.97 498.29,251.95 498.91,251.93 499.53,251.91 500.16,251.89 500.78,251.87 501.4,251.85 502.02,251.83 502.64,251.81 503.27,251.79 503.89,251.77 504.51,251.75 505.13,251.73 505.75,251.71 506.37,251.69 507,251.67 507.62,251.65 508.24,251.63 508.86,251.61 509.48,251.59 510.11,251.57 510.73,251.55 511.35,251.53 511.97,251.51 512.59,251.49 513.22,251.47 513.84,251.46 514.46,251.44 515.08,251.42 515.7,251.4 516.33,251.38 516.95,251.36 517.57,251.35 518.19,251.33 518.81,251.31 519.43,251.3 520.06,251.28 520.68,251.27 521.3,251.25 521.92,251.24 522.54,251.23 523.17,251.21 523.79,251.2 524.41,251.19 525.03,251.18 525.65,251.17 526.28,251.16 526.9,251.15 527.52,251.15 528.14,251.14 528.76,251.13 529.39,251.13 530.01,251.13 530.63,251.12 531.25,251.12 531.87,251.12 532.49,251.12 533.12,251.13 533.74,251.13 534.36,251.13 534.98,251.14 535.6,251.15 536.23,251.16 536.85,251.17 537.47,251.18 538.09,251.19 538.71,251.2 539.34,251.22 539.96,251.24 540.58,251.26 541.2,251.28 541.82,251.3 542.45,251.33 543.07,251.35 543.69,251.38 544.31,251.41 544.93,251.44 545.55,251.48 546.18,251.51 546.8,251.55 547.42,251.59 548.04,251.63 548.66,251.68 549.29,251.72 549.91,251.77 550.53,251.82 551.15,251.88 551.77,251.93 552.4,251.99 553.02,252.05 553.64,252.12 554.26,252.18 554.88,252.25 555.51,252.32 556.13,252.4 556.75,252.47 557.37,252.55 557.99,252.63 558.61,252.72 559.24,252.81 559.86,252.9 560.48,252.99 561.1,253.09 561.72,253.18 562.35,253.29 562.97,253.39 563.59,253.5 564.21,253.61 564.83,253.73 565.46,253.84 566.08,253.97 566.7,254.09 567.32,254.22 567.94,254.35 568.57,254.48 569.19,254.62 569.81,254.76 570.43,254.9 571.05,255.05 571.67,255.2 572.3,255.36 572.92,255.52 573.54,255.68 574.16,255.85 574.78,256.01 575.41,256.19 576.03,256.36 576.65,256.55 577.27,256.73 577.89,256.92 578.52,257.11 579.14,257.31 579.76,257.51 580.38,257.71 581,257.92 581.63,258.13 582.25,258.34 582.87,258.56 583.49,258.79 584.11,259.02 584.73,259.25 585.36,259.48 585.98,259.72 586.6,259.97 587.22,260.22 587.84,260.47 588.47,260.73 589.09,260.99 589.71,261.26 590.33,261.53 590.95,261.8 591.58,262.08 592.2,262.37 592.82,262.66 593.44,262.95 594.06,263.25 594.69,263.55 595.31,263.86 595.93,264.17 596.55,264.49 597.17,264.81 597.79,265.14 598.42,265.47 599.04,265.81 599.66,266.15 600.28,266.5 600.9,266.85 601.53,267.21 602.15,267.58 602.77,267.94 603.39,268.32 604.01,268.7 604.64,269.08 605.26,269.48 605.88,269.87 606.5,270.28 607.12,270.69 607.75,271.1 608.37,271.52 608.99,271.95 609.61,272.38 610.23,272.82 610.85,273.27 611.48,273.72 612.1,274.18 612.72,274.65 613.34,275.12 613.96,275.6 614.59,276.09 615.21,276.58 615.83,277.09 616.45,277.6 617.07,278.11 617.7,278.64 618.32,279.17 618.94,279.71 619.56,280.26 620.18,280.82 620.81,281.39 621.43,281.97 622.05,282.55 622.67,283.14 623.29,283.75 623.91,284.36 624.54,284.98 625.16,285.62 625.78,286.26 626.4,286.91 627.02,287.58 627.65,288.25 628.27,288.94 628.89,289.64 629.51,290.35 630.13,291.07 630.76,291.8 631.38,292.55 632,293.31 632.62,294.08 633.24,294.86 633.87,295.66 634.49,296.48 635.11,297.31 635.73,298.15 636.35,299.01 636.97,299.88 637.6,300.77 638.22,301.68 638.84,302.6 639.46,303.55 640.08,304.5 640.71,305.48 641.33,306.48 641.95,307.49 642.57,308.53 643.19,309.58 643.82,310.66" fill="none" stroke="#2d9be0" stroke-width="1.3"/>
<polyline points="399.89,185.89 400.48,187.94 401.07,189.93 401.65,191.86 402.24,193.73 402.83,195.54 403.42,197.3 404,199 404.59,200.64 405.18,202.24 405.77,203.78 406.35,205.28 406.94,206.73 407.53,208.13 408.12,209.49 408.7,210.8 409.29,212.07 409.88,213.31 410.47,214.5 411.05,215.65 411.64,216.77 412.23,217.85 412.82,218.89 413.4,219.91 413.99,220.88 414.58,221.83 415.17,222.75 415.75,223.63 416.34,224.49 416.93,225.32 417.52,226.12 418.1,226.9 418.69,227.65 419.28,228.37 419.87,229.07 420.45,229.75 421.04,230.41 421.63,231.04 422.22,231.66 422.8,232.25 423.39,232.83 423.98,233.38 424.57,233.92 425.15,234.44 425.74,234.95 426.33,235.44 426.91,235.91 427.5,236.36 428.09,236.81 428.68,237.24 429.26,237.65 429.85,238.05 430.44,238.44 431.03,238.82 431.61,239.18 432.2,239.54 432.79,239.88 433.38,240.21 433.96,240.54 434.55,240.85 435.14,241.15 435.73,241.45 436.31,241.73 436.9,242.01 437.49,242.28 438.08,242.54 438.66,242.8 439.25,243.04 439.84,243.28 440.43,243.52 441.01,243.75 441.6,243.97 442.19,244.18 442.78,244.39 443.36,244.6 443.95,244.8 444.54,244.99 445.13,245.18 445.71,245.36 446.3,245.54 446.89,245.72 447.48,245.89 448.06,246.06 448.65,246.22 449.24,246.38 449.83,246.54 450.41,246.69 451,246.84 451.59,246.98 452.18,247.12 452.76,247.26 453.35,247.4 453.94,247.53 454.52,247.66 455.11,247.79 455.7,247.92 456.29,248.04 456.87,248.16 457.46,248.28 458.05,248.39 458.64,248.5 459.22,248.61 459.81,248.72 460.4,248.83 460.99,248.93 461.57,249.03 462.16,249.13 462.75,249.23 463.34,249.32 463.92,249.42 464.51,249.51 465.1,249.6 465.69,249.69 466.27,249.77 466.86,249.85 467.45,249.94 468.04,250.02 468.62,250.09 469.21,250.17 469.8,250.24 470.39,250.32 470.97,250.39 471.56,250.46 472.15,250.52 472.74,250.59 473.32,250.65 473.91,250.71 474.5,250.77 475.09,250.83 475.67,250.89 476.26,250.94 476.85,251 477.44,251.05 478.02,251.1 478.61,251.15 479.2,251.19 479.78,251.24 480.37,251.28 480.96,251.32 481.55,251.36 482.13,251.4 482.72,251.43 483.31,251.47 483.9,251.5 484.48,251.53 485.07,251.56 485.66,251.59 486.25,251.61 486.83,251.64 487.42,251.66 488.01,251.68 488.6,251.7 489.18,251.72 489.77,251.73 490.36,251.75 490.95,251.76 491.53,251.77 492.12,251.78 492.71,251.79 493.3,251.8 493.88,251.8 494.47,251.81 495.06,251.81 495.65,251.81 496.23,251.81 496.82,251.81 497.41,251.81 498,251.8 498.58,251.8 499.17,251.79 499.76,251.78 500.35,251.77 500.93,251.76 501.52,251.75 502.11,251.74 502.7,251.73 503.28,251.71 503.87,251.7 504.46,251.68 505.04,251.66 505.63,251.64 506.22,251.62 506.81,251.6 507.39,251.58 507.98,251.56 508.57,251.54 509.16,251.52 509.74,251.49 510.33,251.47 510.92,251.45 511.51,251.42 512.09,251.4 512.68,251.37 513.27,251.34 513.86,251.32 514.44,251.29 515.03,251.26 515.62,251.24 516.21,251.21 516.79,251.19 517.38,251.16 517.97,251.13 518.56,251.11 519.14,251.08 519.73,251.05 520.32,251.03 520.91,251 521.49,250.98 522.08,250.96 522.67,250.93 523.26,250.91 523.84,250.89 524.43,250.87 525.02,250.85 525.61,250.83 526.19,250.81 526.78,250.79 527.37,250.77 527.96,250.76 528.54,250.74 529.13,250.73 529.72,250.72 530.31,250.71 530.89,250.7 531.48,250.69 532.07,250.68 532.65,250.68 533.24,250.68 533.83,250.67 534.42,250.67 535,250.68 535.59,250.68 536.18,250.69 536.77,250.69 537.35,250.7 537.94,250.72 538.53,250.73 539.12,250.75 539.7,250.76 540.29,250.79 540.88,250.81 541.47,250.83 542.05,250.86 542.64,250.89 543.23,250.92 543.82,250.96 544.4,251 544.99,251.04 545.58,251.08 546.17,251.13 546.75,251.18 547.34,251.23 547.93,251.28 548.52,251.34 549.1,251.4 549.69,251.46 550.28,251.53 550.87,251.6 551.45,251.67 552.04,251.75 552.63,251.83 553.22,251.91 553.8,252 554.39,252.08 554.98,252.18 555.57,252.27 556.15,252.37 556.74,252.47 557.33,252.58 557.91,252.69 558.5,252.8 559.09,252.92 559.68,253.04 560.26,253.16 560.85,253.29 561.44,253.42 562.03,253.55 562.61,253.69 563.2,253.83 563.79,253.97 564.38,254.12 564.96,254.27 565.55,254.43 566.14,254.59 566.73,254.75 567.31,254.92 567.9,255.09 568.49,255.26 569.08,255.44 569.66,255.62 570.25,255.81 570.84,256 571.43,256.19 572.01,256.39 572.6,256.59 573.19,256.8 573.78,257.01 574.36,257.22 574.95,257.44 575.54,257.66 576.13,257.88 576.71,258.11 577.3,258.34 577.89,258.58 578.48,258.82 579.06,259.06 579.65,259.31 580.24,259.56 580.83,259.82 581.41,260.08 582,260.34 582.59,260.61 583.17,260.88 583.76,261.16 584.35,261.44 584.94,261.72 585.52,262.01 586.11,262.31 586.7,262.6 587.29,262.9 587.87,263.21 588.46,263.52 589.05,263.83 589.64,264.15 590.22,264.47 590.81,264.8 591.4,265.13 591.99,265.47 592.57,265.81 593.16,266.16 593.75,266.51 594.34,266.86 594.92,267.22 595.51,267.58 596.1,267.95 596.69,268.33 597.27,268.71 597.86,269.09 598.45,269.48 599.04,269.87 599.62,270.27 600.21,270.68 600.8,271.09 601.39,271.51 601.97,271.93 602.56,272.36 603.15,272.8 603.74,273.24 604.32,273.68 604.91,274.14 605.5,274.6 606.09,275.07 606.67,275.54 607.26,276.02 607.85,276.51 608.44,277.01 609.02,277.51 609.61,278.03 610.2,278.55 610.78,279.08 611.37,279.61 611.96,280.16 612.55,280.72 613.13,281.28 613.72,281.86 614.31,282.44 614.9,283.04 615.48,283.64 616.07,284.26 616.66,284.89 617.25,285.53 617.83,286.18 618.42,286.84 619.01,287.52 619.6,288.21 620.18,288.91 620.77,289.63 621.36,290.36 621.95,291.1 622.53,291.86 623.12,292.64 623.71,293.43 624.3,294.24 624.88,295.07 625.47,295.91 626.06,296.77 626.65,297.66 627.23,298.56 627.82,299.48 628.41,300.42 629,301.38 629.58,302.37 630.17,303.38 630.76,304.41 631.35,305.46 631.93,306.54 632.52,307.65 633.11,308.78 633.7,309.94 634.28,311.13" fill="none" stroke="#17365f" stroke-width="1.3"/>
</g>
<circle cx="485.1" cy="254" r="2.6" fill="#d9f1fb" stroke="#17365f" stroke-width="0.8"/>
<circle cx="488.2" cy="251.6" r="2.6" fill="#3aa6e3" stroke="#17365f" stroke-width="0.8"/>
<circle cx="514.6" cy="250.5" r="2.5" fill="#17365f" stroke="#0c1e36" stroke-width="0.8"/>
<rect x="385.5" y="194.5" width="275" height="113" fill="none" stroke="#262626" stroke-width="1"/>
<line x1="386.0" y1="194.5" x2="386.0" y2="307.5" stroke="#17426e" stroke-width="1.6"/>
<path d="M385.5,307.5 L385.5,310.5 M385.5,194.5 L385.5,191.5 M394.67,307.5 L394.67,309.3 M394.67,194.5 L394.67,192.7 M403.83,307.5 L403.83,309.3 M403.83,194.5 L403.83,192.7 M413,307.5 L413,309.3 M413,194.5 L413,192.7 M422.17,307.5 L422.17,309.3 M422.17,194.5 L422.17,192.7 M431.33,307.5 L431.33,310.5 M431.33,194.5 L431.33,191.5 M440.5,307.5 L440.5,309.3 M440.5,194.5 L440.5,192.7 M449.67,307.5 L449.67,309.3 M449.67,194.5 L449.67,192.7 M458.83,307.5 L458.83,309.3 M458.83,194.5 L458.83,192.7 M468,307.5 L468,309.3 M468,194.5 L468,192.7 M477.17,307.5 L477.17,310.5 M477.17,194.5 L477.17,191.5 M486.33,307.5 L486.33,309.3 M486.33,194.5 L486.33,192.7 M495.5,307.5 L495.5,309.3 M495.5,194.5 L495.5,192.7 M504.67,307.5 L504.67,309.3 M504.67,194.5 L504.67,192.7 M513.83,307.5 L513.83,309.3 M513.83,194.5 L513.83,192.7 M523,307.5 L523,310.5 M523,194.5 L523,191.5 M532.17,307.5 L532.17,309.3 M532.17,194.5 L532.17,192.7 M541.33,307.5 L541.33,309.3 M541.33,194.5 L541.33,192.7 M550.5,307.5 L550.5,309.3 M550.5,194.5 L550.5,192.7 M559.67,307.5 L559.67,309.3 M559.67,194.5 L559.67,192.7 M568.83,307.5 L568.83,310.5 M568.83,194.5 L568.83,191.5 M578,307.5 L578,309.3 M578,194.5 L578,192.7 M587.17,307.5 L587.17,309.3 M587.17,194.5 L587.17,192.7 M596.33,307.5 L596.33,309.3 M596.33,194.5 L596.33,192.7 M605.5,307.5 L605.5,309.3 M605.5,194.5 L605.5,192.7 M614.67,307.5 L614.67,310.5 M614.67,194.5 L614.67,191.5 M623.83,307.5 L623.83,309.3 M623.83,194.5 L623.83,192.7 M633,307.5 L633,309.3 M633,194.5 L633,192.7 M642.17,307.5 L642.17,309.3 M642.17,194.5 L642.17,192.7 M651.33,307.5 L651.33,309.3 M651.33,194.5 L651.33,192.7 M660.5,307.5 L660.5,310.5 M660.5,194.5 L660.5,191.5 M385.5,307.5 L382.5,307.5 M660.5,307.5 L663.5,307.5 M385.5,301.85 L383.7,301.85 M660.5,301.85 L662.3,301.85 M385.5,296.2 L383.7,296.2 M660.5,296.2 L662.3,296.2 M385.5,290.55 L383.7,290.55 M660.5,290.55 L662.3,290.55 M385.5,284.9 L383.7,284.9 M660.5,284.9 L662.3,284.9 M385.5,279.25 L382.5,279.25 M660.5,279.25 L663.5,279.25 M385.5,273.6 L383.7,273.6 M660.5,273.6 L662.3,273.6 M385.5,267.95 L383.7,267.95 M660.5,267.95 L662.3,267.95 M385.5,262.3 L383.7,262.3 M660.5,262.3 L662.3,262.3 M385.5,256.65 L383.7,256.65 M660.5,256.65 L662.3,256.65 M385.5,251 L382.5,251 M660.5,251 L663.5,251 M385.5,245.35 L383.7,245.35 M660.5,245.35 L662.3,245.35 M385.5,239.7 L383.7,239.7 M660.5,239.7 L662.3,239.7 M385.5,234.05 L383.7,234.05 M660.5,234.05 L662.3,234.05 M385.5,228.4 L383.7,228.4 M660.5,228.4 L662.3,228.4 M385.5,222.75 L382.5,222.75 M660.5,222.75 L663.5,222.75 M385.5,217.1 L383.7,217.1 M660.5,217.1 L662.3,217.1 M385.5,211.45 L383.7,211.45 M660.5,211.45 L662.3,211.45 M385.5,205.8 L383.7,205.8 M660.5,205.8 L662.3,205.8 M385.5,200.15 L383.7,200.15 M660.5,200.15 L662.3,200.15 M385.5,194.5 L382.5,194.5 M660.5,194.5 L663.5,194.5" stroke="#262626" stroke-width="0.8"/>
<text x="385.5" y="323.6" font-size="10.3" text-anchor="middle" font-weight="normal" font-style="normal" fill="#262626" font-family="Liberation Sans" >−300</text>
<text x="431.33" y="323.6" font-size="10.3" text-anchor="middle" font-weight="normal" font-style="normal" fill="#262626" font-family="Liberation Sans" >−200</text>
<text x="477.17" y="323.6" font-size="10.3" text-anchor="middle" font-weight="normal" font-style="normal" fill="#262626" font-family="Liberation Sans" >−100</text>
<text x="523" y="323.6" font-size="10.3" text-anchor="middle" font-weight="normal" font-style="normal" fill="#262626" font-family="Liberation Sans" >0</text>
<text x="568.83" y="323.6" font-size="10.3" text-anchor="middle" font-weight="normal" font-style="normal" fill="#262626" font-family="Liberation Sans" >100</text>
<text x="614.67" y="323.6" font-size="10.3" text-anchor="middle" font-weight="normal" font-style="normal" fill="#262626" font-family="Liberation Sans" >200</text>
<text x="660.5" y="323.6" font-size="10.3" text-anchor="middle" font-weight="normal" font-style="normal" fill="#262626" font-family="Liberation Sans" >300</text>
<text x="381" y="311.2" font-size="10.3" text-anchor="end" font-weight="normal" font-style="normal" fill="#262626" font-family="Liberation Sans" >−2</text>
<text x="381" y="282.95" font-size="10.3" text-anchor="end" font-weight="normal" font-style="normal" fill="#262626" font-family="Liberation Sans" >−1</text>
<text x="381" y="254.7" font-size="10.3" text-anchor="end" font-weight="normal" font-style="normal" fill="#262626" font-family="Liberation Sans" >0</text>
<text x="381" y="226.45" font-size="10.3" text-anchor="end" font-weight="normal" font-style="normal" fill="#262626" font-family="Liberation Sans" >1</text>
<text x="381" y="198.2" font-size="10.3" text-anchor="end" font-weight="normal" font-style="normal" fill="#262626" font-family="Liberation Sans" >2</text>
<text x="384.3" y="186.9" font-size="9.2" text-anchor="middle" font-weight="normal" font-style="normal" fill="#262626" font-family="Liberation Sans" >189.98</text>
<text x="430.13" y="186.9" font-size="9.2" text-anchor="middle" font-weight="normal" font-style="normal" fill="#262626" font-family="Liberation Sans" >191.17</text>
<text x="475.97" y="186.9" font-size="9.2" text-anchor="middle" font-weight="normal" font-style="normal" fill="#262626" font-family="Liberation Sans" >192.36</text>
<text x="521.8" y="186.9" font-size="9.2" text-anchor="middle" font-weight="normal" font-style="normal" fill="#262626" font-family="Liberation Sans" >193.55</text>
<text x="567.63" y="186.9" font-size="9.2" text-anchor="middle" font-weight="normal" font-style="normal" fill="#262626" font-family="Liberation Sans" >194.74</text>
<text x="613.47" y="186.9" font-size="9.2" text-anchor="middle" font-weight="normal" font-style="normal" fill="#262626" font-family="Liberation Sans" >195.93</text>
<text x="659.3" y="186.9" font-size="9.2" text-anchor="middle" font-weight="normal" font-style="normal" fill="#262626" font-family="Liberation Sans" >197.12</text>
<text x="508" y="174.9" font-size="9.2" text-anchor="start" font-weight="normal" font-style="normal" fill="#262626" font-family="Liberation Sans" ><tspan font-family="Liberation Serif" font-style="italic" font-size="11">f</tspan> [THz]</text>
<text x="522.5" y="335.8" font-size="11" text-anchor="middle" font-weight="normal" font-style="normal" fill="#262626" font-family="Liberation Sans" ><tspan font-family="Liberation Serif" font-style="italic">μ</tspan></text>
<text transform="translate(363,253.1) rotate(-90)" font-size="13.5" font-family="Liberation Serif" fill="#262626" text-anchor="middle"><tspan font-style="italic">D</tspan><tspan font-size="9.5" dy="3">int</tspan><tspan dy="-3">/2</tspan><tspan font-style="italic">π</tspan> <tspan font-family="Liberation Sans" font-size="11.5">[GHz]</tspan></text>
<text x="346" y="193.6" font-size="17" text-anchor="end" font-weight="bold" font-style="normal" fill="#000" font-family="Liberation Sans" >d</text>
<text x="434.5" y="227" font-size="7.5" text-anchor="start" font-weight="bold" font-style="normal" fill="#1a1a1a" font-family="Liberation Sans" letter-spacing="-0.35">Anomalous</text>
<line x1="452.4" y1="246" x2="452.4" y2="237" stroke="#111" stroke-width="0.8" stroke-dasharray="1.6,1"/>
<polygon points="452.4,232.6 450,237.4 454.8,237.4" fill="#111"/>
<text x="482.3" y="243.6" font-size="7.5" text-anchor="start" font-weight="bold" font-style="normal" fill="#1a1a1a" font-family="Liberation Sans" letter-spacing="-0.2">Zero-dispersion</text>
<text x="566" y="288.5" font-size="7.5" text-anchor="start" font-weight="bold" font-style="normal" fill="#1a1a1a" font-family="Liberation Sans" letter-spacing="-0.1">Normal</text>
<line x1="575.8" y1="257" x2="575.8" y2="269" stroke="#111" stroke-width="0.8" stroke-dasharray="1.6,1"/>
<polygon points="575.8,273.9 573.3,269 578.3,269" fill="#111"/>
<text x="403.2" y="272" font-size="10.5" text-anchor="start" font-weight="bold" font-style="italic" fill="#1a1a1a" font-family="Liberation Serif" >W<tspan font-family="Liberation Sans" font-style="normal" font-size="6.6" dy="1.6">Reso</tspan></text>
<line x1="394.2" y1="282.3" x2="413" y2="282.3" stroke="#80d0f2" stroke-width="1.4"/>
<text x="415.6" y="283.7" font-size="9.3" text-anchor="start" font-weight="bold" font-style="normal" fill="#1a1a1a" font-family="Liberation Serif" >1 <tspan font-style="italic">μm</tspan></text>
<line x1="394.2" y1="289.5" x2="413" y2="289.5" stroke="#2d9be0" stroke-width="1.4"/>
<text x="415.6" y="290.9" font-size="9.3" text-anchor="start" font-weight="bold" font-style="normal" fill="#1a1a1a" font-family="Liberation Serif" >2 <tspan font-style="italic">μm</tspan></text>
<line x1="394.2" y1="297" x2="413" y2="297" stroke="#1b3a66" stroke-width="1.4"/>
<text x="415.6" y="298.6" font-size="9.3" text-anchor="start" font-weight="bold" font-style="normal" fill="#1a1a1a" font-family="Liberation Serif" >3 <tspan font-style="italic">μm</tspan></text>
<rect x="597.2" y="199.5" width="54" height="37.3" fill="#fff"/>
<line x1="597.2" y1="232.25" x2="651.2" y2="232.25" stroke="#dedede" stroke-width="0.7"/>
<line x1="597.2" y1="210.75" x2="651.2" y2="210.75" stroke="#dedede" stroke-width="0.7"/>
<line x1="597.2" y1="221.5" x2="651.2" y2="221.5" stroke="#dedede" stroke-width="0.7"/>
<line x1="624.2" y1="199.5" x2="624.2" y2="236.8" stroke="#dedede" stroke-width="0.7"/>
<polyline points="597.2,200 597.47,200.39 597.74,200.78 598.01,201.17 598.29,201.55 598.56,201.94 598.83,202.32 599.1,202.71 599.37,203.09 599.64,203.47 599.91,203.85 600.18,204.23 600.46,204.6 600.73,204.98 601,205.35 601.27,205.72 601.54,206.09 601.81,206.46 602.08,206.83 602.36,207.2 602.63,207.56 602.9,207.93 603.17,208.31 603.44,208.69 603.71,209.07 603.98,209.46 604.26,209.86 604.53,210.25 604.8,210.64 605.07,211.03 605.34,211.43 605.61,211.81 605.88,212.2 606.15,212.57 606.43,212.95 606.7,213.31 606.97,213.66 607.24,214.01 607.51,214.34 607.78,214.67 608.05,214.97 608.33,215.27 608.6,215.55 608.87,215.81 609.14,216.06 609.41,216.28 609.68,216.5 609.95,216.7 610.23,216.89 610.5,217.08 610.77,217.26 611.04,217.43 611.31,217.59 611.58,217.75 611.85,217.91 612.12,218.06 612.4,218.2 612.67,218.34 612.94,218.48 613.21,218.62 613.48,218.75 613.75,218.89 614.02,219.02 614.3,219.16 614.57,219.29 614.84,219.43 615.11,219.57 615.38,219.71 615.65,219.86 615.92,220.01 616.19,220.16 616.47,220.32 616.74,220.49 617.01,220.66 617.28,220.85 617.55,221.03 617.82,221.24 618.09,221.45 618.37,221.67 618.64,221.91 618.91,222.15 619.18,222.4 619.45,222.66 619.72,222.92 619.99,223.18 620.27,223.45 620.54,223.72 620.81,223.98 621.08,224.25 621.35,224.51 621.62,224.77 621.89,225.02 622.16,225.27 622.44,225.5 622.71,225.73 622.98,225.95 623.25,226.16 623.52,226.35 623.79,226.53 624.06,226.69 624.34,226.84 624.61,226.99 624.88,227.14 625.15,227.28 625.42,227.43 625.69,227.58 625.96,227.73 626.24,227.87 626.51,228.02 626.78,228.16 627.05,228.3 627.32,228.44 627.59,228.58 627.86,228.72 628.13,228.85 628.41,228.98 628.68,229.1 628.95,229.22 629.22,229.34 629.49,229.45 629.76,229.56 630.03,229.66 630.31,229.76 630.58,229.85 630.85,229.94 631.12,230.02 631.39,230.09 631.66,230.16 631.93,230.22 632.21,230.27 632.48,230.32 632.75,230.36 633.02,230.39 633.29,230.41 633.56,230.42 633.83,230.42 634.1,230.42 634.38,230.42 634.65,230.41 634.92,230.4 635.19,230.39 635.46,230.38 635.73,230.36 636,230.35 636.28,230.33 636.55,230.31 636.82,230.29 637.09,230.26 637.36,230.24 637.63,230.21 637.9,230.19 638.17,230.16 638.45,230.13 638.72,230.1 638.99,230.06 639.26,230.03 639.53,230 639.8,229.96 640.07,229.93 640.35,229.89 640.62,229.85 640.89,229.81 641.16,229.75 641.43,229.69 641.7,229.63 641.97,229.55 642.25,229.47 642.52,229.39 642.79,229.3 643.06,229.2 643.33,229.1 643.6,229 643.87,228.9 644.14,228.79 644.42,228.68 644.69,228.56 644.96,228.45 645.23,228.33 645.5,228.21 645.77,228.1 646.04,227.98 646.32,227.86 646.59,227.74 646.86,227.63 647.13,227.51 647.4,227.38 647.67,227.25 647.94,227.11 648.22,226.98 648.49,226.84 648.76,226.69 649.03,226.54 649.3,226.39 649.57,226.24 649.84,226.08 650.11,225.92 650.39,225.76 650.66,225.6 650.93,225.43 651.2,225.26" fill="none" stroke="#57c3ef" stroke-width="1.1"/>
<polyline points="597.2,212.36 597.47,212.46 597.74,212.56 598.01,212.66 598.29,212.76 598.56,212.85 598.83,212.95 599.1,213.05 599.37,213.15 599.64,213.25 599.91,213.36 600.18,213.46 600.46,213.56 600.73,213.66 601,213.76 601.27,213.87 601.54,213.97 601.81,214.07 602.08,214.18 602.36,214.28 602.63,214.39 602.9,214.49 603.17,214.6 603.44,214.7 603.71,214.81 603.98,214.91 604.26,215.02 604.53,215.13 604.8,215.24 605.07,215.34 605.34,215.45 605.61,215.56 605.88,215.67 606.15,215.78 606.43,215.89 606.7,216 606.97,216.11 607.24,216.22 607.51,216.33 607.78,216.44 608.05,216.55 608.33,216.67 608.6,216.78 608.87,216.89 609.14,217 609.41,217.12 609.68,217.23 609.95,217.35 610.23,217.47 610.5,217.59 610.77,217.71 611.04,217.83 611.31,217.95 611.58,218.08 611.85,218.2 612.12,218.33 612.4,218.46 612.67,218.59 612.94,218.71 613.21,218.84 613.48,218.98 613.75,219.11 614.02,219.24 614.3,219.37 614.57,219.5 614.84,219.64 615.11,219.77 615.38,219.9 615.65,220.03 615.92,220.17 616.19,220.3 616.47,220.43 616.74,220.57 617.01,220.7 617.28,220.83 617.55,220.96 617.82,221.09 618.09,221.23 618.37,221.36 618.64,221.48 618.91,221.61 619.18,221.74 619.45,221.87 619.72,221.99 619.99,222.12 620.27,222.24 620.54,222.37 620.81,222.49 621.08,222.61 621.35,222.72 621.62,222.84 621.89,222.96 622.16,223.07 622.44,223.18 622.71,223.29 622.98,223.4 623.25,223.51 623.52,223.61 623.79,223.72 624.06,223.82 624.34,223.91 624.61,224.01 624.88,224.11 625.15,224.21 625.42,224.31 625.69,224.41 625.96,224.51 626.24,224.62 626.51,224.72 626.78,224.82 627.05,224.92 627.32,225.02 627.59,225.12 627.86,225.21 628.13,225.31 628.41,225.41 628.68,225.5 628.95,225.6 629.22,225.69 629.49,225.79 629.76,225.88 630.03,225.97 630.31,226.05 630.58,226.14 630.85,226.22 631.12,226.3 631.39,226.38 631.66,226.46 631.93,226.54 632.21,226.61 632.48,226.68 632.75,226.74 633.02,226.81 633.29,226.87 633.56,226.93 633.83,226.98 634.1,227.03 634.38,227.08 634.65,227.13 634.92,227.17 635.19,227.2 635.46,227.24 635.73,227.28 636,227.31 636.28,227.35 636.55,227.38 636.82,227.42 637.09,227.45 637.36,227.48 637.63,227.52 637.9,227.55 638.17,227.58 638.45,227.62 638.72,227.65 638.99,227.68 639.26,227.71 639.53,227.74 639.8,227.77 640.07,227.79 640.35,227.82 640.62,227.85 640.89,227.87 641.16,227.9 641.43,227.92 641.7,227.94 641.97,227.97 642.25,227.99 642.52,228.01 642.79,228.03 643.06,228.05 643.33,228.06 643.6,228.08 643.87,228.09 644.14,228.11 644.42,228.12 644.69,228.13 644.96,228.14 645.23,228.15 645.5,228.15 645.77,228.16 646.04,228.16 646.32,228.16 646.59,228.16 646.86,228.16 647.13,228.15 647.4,228.12 647.67,228.09 647.94,228.05 648.22,228 648.49,227.95 648.76,227.89 649.03,227.82 649.3,227.75 649.57,227.68 649.84,227.6 650.11,227.52 650.39,227.44 650.66,227.36 650.93,227.28 651.2,227.2" fill="none" stroke="#2d9be0" stroke-width="1.1"/>
<polyline points="597.2,211.61 597.47,211.72 597.74,211.84 598.01,211.95 598.29,212.06 598.56,212.18 598.83,212.29 599.1,212.4 599.37,212.52 599.64,212.63 599.91,212.74 600.18,212.85 600.46,212.97 600.73,213.08 601,213.19 601.27,213.31 601.54,213.42 601.81,213.53 602.08,213.65 602.36,213.76 602.63,213.87 602.9,213.98 603.17,214.1 603.44,214.21 603.71,214.32 603.98,214.44 604.26,214.55 604.53,214.66 604.8,214.77 605.07,214.89 605.34,215 605.61,215.11 605.88,215.22 606.15,215.34 606.43,215.45 606.7,215.56 606.97,215.68 607.24,215.79 607.51,215.9 607.78,216.01 608.05,216.13 608.33,216.24 608.6,216.35 608.87,216.46 609.14,216.58 609.41,216.69 609.68,216.8 609.95,216.91 610.23,217.03 610.5,217.14 610.77,217.26 611.04,217.37 611.31,217.49 611.58,217.61 611.85,217.72 612.12,217.84 612.4,217.96 612.67,218.08 612.94,218.2 613.21,218.31 613.48,218.43 613.75,218.55 614.02,218.67 614.3,218.79 614.57,218.91 614.84,219.03 615.11,219.15 615.38,219.26 615.65,219.38 615.92,219.5 616.19,219.62 616.47,219.74 616.74,219.85 617.01,219.97 617.28,220.09 617.55,220.2 617.82,220.32 618.09,220.43 618.37,220.55 618.64,220.66 618.91,220.77 619.18,220.89 619.45,221 619.72,221.11 619.99,221.22 620.27,221.33 620.54,221.44 620.81,221.54 621.08,221.65 621.35,221.76 621.62,221.86 621.89,221.96 622.16,222.06 622.44,222.17 622.71,222.27 622.98,222.36 623.25,222.46 623.52,222.56 623.79,222.65 624.06,222.74 624.34,222.84 624.61,222.93 624.88,223.02 625.15,223.11 625.42,223.21 625.69,223.3 625.96,223.39 626.24,223.49 626.51,223.58 626.78,223.68 627.05,223.77 627.32,223.86 627.59,223.96 627.86,224.05 628.13,224.14 628.41,224.23 628.68,224.33 628.95,224.42 629.22,224.51 629.49,224.6 629.76,224.69 630.03,224.78 630.31,224.86 630.58,224.95 630.85,225.04 631.12,225.12 631.39,225.2 631.66,225.29 631.93,225.37 632.21,225.45 632.48,225.52 632.75,225.6 633.02,225.68 633.29,225.75 633.56,225.82 633.83,225.89 634.1,225.96 634.38,226.03 634.65,226.09 634.92,226.15 635.19,226.21 635.46,226.27 635.73,226.33 636,226.38 636.28,226.43 636.55,226.48 636.82,226.53 637.09,226.57 637.36,226.61 637.63,226.65 637.9,226.69 638.17,226.72 638.45,226.76 638.72,226.8 638.99,226.83 639.26,226.87 639.53,226.9 639.8,226.94 640.07,226.97 640.35,227.01 640.62,227.04 640.89,227.08 641.16,227.11 641.43,227.14 641.7,227.17 641.97,227.2 642.25,227.23 642.52,227.26 642.79,227.28 643.06,227.31 643.33,227.34 643.6,227.36 643.87,227.38 644.14,227.4 644.42,227.42 644.69,227.44 644.96,227.46 645.23,227.47 645.5,227.48 645.77,227.49 646.04,227.5 646.32,227.51 646.59,227.52 646.86,227.52 647.13,227.52 647.4,227.51 647.67,227.49 647.94,227.45 648.22,227.4 648.49,227.34 648.76,227.27 649.03,227.18 649.3,227.09 649.57,226.99 649.84,226.89 650.11,226.78 650.39,226.67 650.66,226.56 650.93,226.45 651.2,226.34" fill="none" stroke="#6ccbf2" stroke-width="0.9"/>
<line x1="597.2" y1="211.07" x2="651.2" y2="236.44" stroke="#17365f" stroke-width="1.2"/>
<rect x="597.2" y="199.5" width="54" height="37.3" fill="none" stroke="#262626" stroke-width="0.8"/>
<path d="M597.2,236.8 L597.2,235.3 M597.2,199.5 L597.2,201 M603.95,236.8 L603.95,235.3 M603.95,199.5 L603.95,201 M610.7,236.8 L610.7,235.3 M610.7,199.5 L610.7,201 M617.45,236.8 L617.45,235.3 M617.45,199.5 L617.45,201 M624.2,236.8 L624.2,235.3 M624.2,199.5 L624.2,201 M630.95,236.8 L630.95,235.3 M630.95,199.5 L630.95,201 M637.7,236.8 L637.7,235.3 M637.7,199.5 L637.7,201 M644.45,236.8 L644.45,235.3 M644.45,199.5 L644.45,201 M651.2,236.8 L651.2,235.3 M651.2,199.5 L651.2,201 M597.2,234.94 L598.5,234.94 M651.2,234.94 L649.9,234.94 M597.2,232.25 L598.5,232.25 M651.2,232.25 L649.9,232.25 M597.2,229.56 L598.5,229.56 M651.2,229.56 L649.9,229.56 M597.2,226.88 L598.5,226.88 M651.2,226.88 L649.9,226.88 M597.2,224.19 L598.5,224.19 M651.2,224.19 L649.9,224.19 M597.2,221.5 L598.5,221.5 M651.2,221.5 L649.9,221.5 M597.2,218.81 L598.5,218.81 M651.2,218.81 L649.9,218.81 M597.2,216.12 L598.5,216.12 M651.2,216.12 L649.9,216.12 M597.2,213.44 L598.5,213.44 M651.2,213.44 L649.9,213.44 M597.2,210.75 L598.5,210.75 M651.2,210.75 L649.9,210.75 M597.2,208.06 L598.5,208.06 M651.2,208.06 L649.9,208.06 M597.2,205.38 L598.5,205.38 M651.2,205.38 L649.9,205.38 M597.2,202.69 L598.5,202.69 M651.2,202.69 L649.9,202.69 M597.2,200 L598.5,200 M651.2,200 L649.9,200" stroke="#262626" stroke-width="0.6"/>
<text x="595" y="202.9" font-size="8.1" text-anchor="end" font-weight="normal" font-style="normal" fill="#262626" font-family="Liberation Sans" >200</text>
<text x="595" y="213.65" font-size="8.1" text-anchor="end" font-weight="normal" font-style="normal" fill="#262626" font-family="Liberation Sans" >100</text>
<text x="595" y="224.4" font-size="8.1" text-anchor="end" font-weight="normal" font-style="normal" fill="#262626" font-family="Liberation Sans" >0</text>
<text x="595" y="235.15" font-size="8.1" text-anchor="end" font-weight="normal" font-style="normal" fill="#262626" font-family="Liberation Sans" >-100</text>
<text x="597.2" y="247.1" font-size="8.1" text-anchor="middle" font-weight="normal" font-style="normal" fill="#262626" font-family="Liberation Sans" >-200</text>
<text x="624.2" y="247.1" font-size="8.1" text-anchor="middle" font-weight="normal" font-style="normal" fill="#262626" font-family="Liberation Sans" >0</text>
<text x="651.2" y="247.1" font-size="8.1" text-anchor="middle" font-weight="normal" font-style="normal" fill="#262626" font-family="Liberation Sans" >200</text>
<text x="624.2" y="255.3" font-size="9" text-anchor="middle" font-weight="normal" font-style="italic" fill="#262626" font-family="Liberation Serif" >μ</text>
<text transform="translate(577,219.9) rotate(-90)" font-size="8.3" font-family="Liberation Sans" fill="#262626" text-anchor="middle"><tspan font-family="Liberation Serif" font-style="italic" font-size="9.2">D</tspan><tspan font-size="5.5" dy="1.8">1</tspan><tspan dy="-1.8">/2π[kHz]</tspan></text>
<line x1="65.73" y1="358.5" x2="65.73" y2="474.5" stroke="#dedede" stroke-width="0.8"/>
<line x1="120.19" y1="358.5" x2="120.19" y2="474.5" stroke="#dedede" stroke-width="0.8"/>
<line x1="174.64" y1="358.5" x2="174.64" y2="474.5" stroke="#dedede" stroke-width="0.8"/>
<line x1="38.5" y1="435.83" x2="229.1" y2="435.83" stroke="#dedede" stroke-width="0.8"/>
<line x1="38.5" y1="397.17" x2="229.1" y2="397.17" stroke="#dedede" stroke-width="0.8"/>
<line x1="84.52" y1="360.8" x2="84.52" y2="474.5" stroke="#e4202a" stroke-width="1.6" stroke-dasharray="5.7,4.15"/>
<line x1="204.05" y1="360.8" x2="204.05" y2="474.5" stroke="#6a6a6a" stroke-width="1.5" stroke-dasharray="5.6,4.25"/>
<polyline points="194.25,474.5 120.19,401.81 86.4,433.8" fill="none" stroke="#4bbbe8" stroke-width="1.4" stroke-linejoin="miter"/>
<polygon points="96.5,425 86.3,433.4 86.6,437 87.3,451.5 88.1,451.5 88.9,441 90.8,434.5 97.2,426.4" fill="#4bbbe8"/>
<polyline points="86.6,433.8 85.9,450 85.3,474.4" fill="none" stroke="#4bbbe8" stroke-width="1.3"/>
<rect x="38.5" y="358.5" width="190.6" height="116" fill="none" stroke="#262626" stroke-width="1"/>
<path d="M38.5,474.5 L38.5,476.3 M38.5,358.5 L38.5,356.7 M52.11,474.5 L52.11,476.3 M52.11,358.5 L52.11,356.7 M65.73,474.5 L65.73,477.5 M65.73,358.5 L65.73,355.5 M79.34,474.5 L79.34,476.3 M79.34,358.5 L79.34,356.7 M92.96,474.5 L92.96,476.3 M92.96,358.5 L92.96,356.7 M106.57,474.5 L106.57,476.3 M106.57,358.5 L106.57,356.7 M120.19,474.5 L120.19,477.5 M120.19,358.5 L120.19,355.5 M133.8,474.5 L133.8,476.3 M133.8,358.5 L133.8,356.7 M147.41,474.5 L147.41,476.3 M147.41,358.5 L147.41,356.7 M161.03,474.5 L161.03,476.3 M161.03,358.5 L161.03,356.7 M174.64,474.5 L174.64,477.5 M174.64,358.5 L174.64,355.5 M188.26,474.5 L188.26,476.3 M188.26,358.5 L188.26,356.7 M201.87,474.5 L201.87,476.3 M201.87,358.5 L201.87,356.7 M215.49,474.5 L215.49,476.3 M215.49,358.5 L215.49,356.7 M229.1,474.5 L229.1,477.5 M229.1,358.5 L229.1,355.5 M38.5,474.5 L35.5,474.5 M229.1,474.5 L232.1,474.5 M38.5,466.77 L36.7,466.77 M229.1,466.77 L230.9,466.77 M38.5,459.03 L36.7,459.03 M229.1,459.03 L230.9,459.03 M38.5,451.3 L36.7,451.3 M229.1,451.3 L230.9,451.3 M38.5,443.57 L36.7,443.57 M229.1,443.57 L230.9,443.57 M38.5,435.83 L35.5,435.83 M229.1,435.83 L232.1,435.83 M38.5,428.1 L36.7,428.1 M229.1,428.1 L230.9,428.1 M38.5,420.37 L36.7,420.37 M229.1,420.37 L230.9,420.37 M38.5,412.63 L36.7,412.63 M229.1,412.63 L230.9,412.63 M38.5,404.9 L36.7,404.9 M229.1,404.9 L230.9,404.9 M38.5,397.17 L35.5,397.17 M229.1,397.17 L232.1,397.17 M38.5,389.43 L36.7,389.43 M229.1,389.43 L230.9,389.43 M38.5,381.7 L36.7,381.7 M229.1,381.7 L230.9,381.7 M38.5,373.97 L36.7,373.97 M229.1,373.97 L230.9,373.97 M38.5,366.23 L36.7,366.23 M229.1,366.23 L230.9,366.23 M38.5,358.5 L35.5,358.5 M229.1,358.5 L232.1,358.5" stroke="#262626" stroke-width="0.8"/>
<text x="65.73" y="487.9" font-size="10.2" text-anchor="middle" font-weight="normal" font-style="normal" fill="#262626" font-family="Liberation Sans" >1520</text>
<text x="120.19" y="487.9" font-size="10.2" text-anchor="middle" font-weight="normal" font-style="normal" fill="#262626" font-family="Liberation Sans" >1540</text>
<text x="174.64" y="487.9" font-size="10.2" text-anchor="middle" font-weight="normal" font-style="normal" fill="#262626" font-family="Liberation Sans" >1560</text>
<text x="229.1" y="487.9" font-size="10.2" text-anchor="middle" font-weight="normal" font-style="normal" fill="#262626" font-family="Liberation Sans" >1580</text>
<text x="33.9" y="478.2" font-size="10.2" text-anchor="end" font-weight="normal" font-style="normal" fill="#262626" font-family="Liberation Sans" >-20</text>
<text x="33.9" y="439.53" font-size="10.2" text-anchor="end" font-weight="normal" font-style="normal" fill="#262626" font-family="Liberation Sans" >-10</text>
<text x="33.9" y="400.87" font-size="10.2" text-anchor="end" font-weight="normal" font-style="normal" fill="#262626" font-family="Liberation Sans" >0</text>
<text x="33.9" y="362.2" font-size="10.2" text-anchor="end" font-weight="normal" font-style="normal" fill="#262626" font-family="Liberation Sans" >10</text>
<text x="133.8" y="499.1" font-size="9.6" text-anchor="middle" font-weight="normal" font-style="normal" fill="#262626" font-family="Liberation Sans" ><tspan font-style="italic">λ</tspan> [nm]</text>
<text y="373.6" font-size="13" font-family="Liberation Serif" fill="#1a1a1a" stroke="#1a1a1a" stroke-width="0.12"><tspan x="90.2">@</tspan><tspan font-style="italic">λ</tspan><tspan x="110.8" font-size="13.5" stroke-width="0.1">=</tspan><tspan x="122.6" letter-spacing="-0.1">1540</tspan><tspan x="151.8" font-style="italic">nm</tspan></text>
<text x="0.5" y="349.5" font-size="17" text-anchor="start" font-weight="bold" font-style="normal" fill="#000" font-family="Liberation Sans" >e</text>
<line x1="288.73" y1="358.5" x2="288.73" y2="474.5" stroke="#dedede" stroke-width="0.8"/>
<line x1="343.19" y1="358.5" x2="343.19" y2="474.5" stroke="#dedede" stroke-width="0.8"/>
<line x1="397.64" y1="358.5" x2="397.64" y2="474.5" stroke="#dedede" stroke-width="0.8"/>
<line x1="261.5" y1="435.83" x2="452.1" y2="435.83" stroke="#dedede" stroke-width="0.8"/>
<line x1="261.5" y1="397.17" x2="452.1" y2="397.17" stroke="#dedede" stroke-width="0.8"/>
<line x1="308.33" y1="360.8" x2="308.33" y2="474.5" stroke="#e4202a" stroke-width="1.6" stroke-dasharray="5.7,4.15"/>
<line x1="428.14" y1="360.8" x2="428.14" y2="474.5" stroke="#3a3a3a" stroke-width="1.5" stroke-dasharray="5.6,4.25"/>
<polyline points="428.68,474.5 428.09,472.77 427.51,471.1 426.92,469.48 426.33,467.92 425.74,466.42 425.15,464.96 424.56,463.55 423.97,462.19 423.39,460.88 422.8,459.6 422.21,458.37 421.62,457.18 421.03,456.02 420.44,454.9 419.85,453.81 419.27,452.76 418.68,451.73 418.09,450.74 417.5,449.77 416.91,448.83 416.32,447.91 415.73,447.02 415.15,446.15 414.56,445.31 413.97,444.48 413.38,443.67 412.79,442.88 412.2,442.11 411.61,441.36 411.03,440.62 410.44,439.89 409.85,439.18 409.26,438.49 408.67,437.8 408.08,437.13 407.49,436.47 406.91,435.81 406.32,435.17 405.73,434.54 405.14,433.91 404.55,433.29 403.96,432.68 403.37,432.08 402.79,431.48 402.2,430.89 401.61,430.31 401.02,429.73 400.43,429.15 399.84,428.58 399.25,428.01 398.67,427.45 398.08,426.89 397.49,426.33 396.9,425.78 396.31,425.23 395.72,424.68 395.13,424.13 394.55,423.59 393.96,423.04 393.37,422.5 392.78,421.96 392.19,421.42 391.6,420.89 391.01,420.35 390.43,419.82 389.84,419.28 389.25,418.75 388.66,418.21 388.07,417.68 387.48,417.15 386.89,416.62 386.31,416.09 385.72,415.56 385.13,415.03 384.54,414.5 383.95,413.97 383.36,413.44 382.77,412.91 382.19,412.38 381.6,411.85 381.01,411.32 380.42,410.79 379.83,410.27 379.24,409.74 378.65,409.21 378.07,408.68 377.48,408.15 376.89,407.62 376.3,407.09 375.71,406.56 375.12,406.04 374.53,405.51 373.95,404.98 373.36,404.45 372.77,403.92 372.18,403.39 371.59,402.86 371,402.34 370.41,401.81 320,451.2" fill="none" stroke="#111111" stroke-width="1.4"/>
<polygon points="323,449.6 318.5,451.6 310.8,460.2 308.9,461.2 308.9,474.4 311.6,474.4 312.2,468 313.8,462.2 319.2,455.2 323.6,450.8" fill="#111111"/>
<rect x="261.5" y="358.5" width="190.6" height="116" fill="none" stroke="#262626" stroke-width="1"/>
<path d="M261.5,474.5 L261.5,476.3 M261.5,358.5 L261.5,356.7 M275.11,474.5 L275.11,476.3 M275.11,358.5 L275.11,356.7 M288.73,474.5 L288.73,477.5 M288.73,358.5 L288.73,355.5 M302.34,474.5 L302.34,476.3 M302.34,358.5 L302.34,356.7 M315.96,474.5 L315.96,476.3 M315.96,358.5 L315.96,356.7 M329.57,474.5 L329.57,476.3 M329.57,358.5 L329.57,356.7 M343.19,474.5 L343.19,477.5 M343.19,358.5 L343.19,355.5 M356.8,474.5 L356.8,476.3 M356.8,358.5 L356.8,356.7 M370.41,474.5 L370.41,476.3 M370.41,358.5 L370.41,356.7 M384.03,474.5 L384.03,476.3 M384.03,358.5 L384.03,356.7 M397.64,474.5 L397.64,477.5 M397.64,358.5 L397.64,355.5 M411.26,474.5 L411.26,476.3 M411.26,358.5 L411.26,356.7 M424.87,474.5 L424.87,476.3 M424.87,358.5 L424.87,356.7 M438.49,474.5 L438.49,476.3 M438.49,358.5 L438.49,356.7 M452.1,474.5 L452.1,477.5 M452.1,358.5 L452.1,355.5 M261.5,474.5 L258.5,474.5 M452.1,474.5 L455.1,474.5 M261.5,466.77 L259.7,466.77 M452.1,466.77 L453.9,466.77 M261.5,459.03 L259.7,459.03 M452.1,459.03 L453.9,459.03 M261.5,451.3 L259.7,451.3 M452.1,451.3 L453.9,451.3 M261.5,443.57 L259.7,443.57 M452.1,443.57 L453.9,443.57 M261.5,435.83 L258.5,435.83 M452.1,435.83 L455.1,435.83 M261.5,428.1 L259.7,428.1 M452.1,428.1 L453.9,428.1 M261.5,420.37 L259.7,420.37 M452.1,420.37 L453.9,420.37 M261.5,412.63 L259.7,412.63 M452.1,412.63 L453.9,412.63 M261.5,404.9 L259.7,404.9 M452.1,404.9 L453.9,404.9 M261.5,397.17 L258.5,397.17 M452.1,397.17 L455.1,397.17 M261.5,389.43 L259.7,389.43 M452.1,389.43 L453.9,389.43 M261.5,381.7 L259.7,381.7 M452.1,381.7 L453.9,381.7 M261.5,373.97 L259.7,373.97 M452.1,373.97 L453.9,373.97 M261.5,366.23 L259.7,366.23 M452.1,366.23 L453.9,366.23 M261.5,358.5 L258.5,358.5 M452.1,358.5 L455.1,358.5" stroke="#262626" stroke-width="0.8"/>
<text x="288.73" y="487.9" font-size="10.2" text-anchor="middle" font-weight="normal" font-style="normal" fill="#262626" font-family="Liberation Sans" >1520</text>
<text x="343.19" y="487.9" font-size="10.2" text-anchor="middle" font-weight="normal" font-style="normal" fill="#262626" font-family="Liberation Sans" >1540</text>
<text x="397.64" y="487.9" font-size="10.2" text-anchor="middle" font-weight="normal" font-style="normal" fill="#262626" font-family="Liberation Sans" >1560</text>
<text x="452.1" y="487.9" font-size="10.2" text-anchor="middle" font-weight="normal" font-style="normal" fill="#262626" font-family="Liberation Sans" >1580</text>
<text x="256.9" y="478.2" font-size="10.2" text-anchor="end" font-weight="normal" font-style="normal" fill="#262626" font-family="Liberation Sans" >-20</text>
<text x="256.9" y="439.53" font-size="10.2" text-anchor="end" font-weight="normal" font-style="normal" fill="#262626" font-family="Liberation Sans" >-10</text>
<text x="256.9" y="400.87" font-size="10.2" text-anchor="end" font-weight="normal" font-style="normal" fill="#262626" font-family="Liberation Sans" >0</text>
<text x="256.9" y="362.2" font-size="10.2" text-anchor="end" font-weight="normal" font-style="normal" fill="#262626" font-family="Liberation Sans" >10</text>
<text x="356.8" y="499.1" font-size="9.6" text-anchor="middle" font-weight="normal" font-style="normal" fill="#262626" font-family="Liberation Sans" ><tspan font-style="italic">λ</tspan> [nm]</text>
<text y="373.6" font-size="13" font-family="Liberation Serif" fill="#1a1a1a" stroke="#1a1a1a" stroke-width="0.12"><tspan x="326.2">@</tspan><tspan font-style="italic">λ</tspan><tspan x="346.8" font-size="13.5" stroke-width="0.1">=</tspan><tspan x="358.6" letter-spacing="-0.1">1550</tspan><tspan x="387.8" font-style="italic">nm</tspan></text>
<text x="233.6" y="349.5" font-size="17" text-anchor="start" font-weight="bold" font-style="normal" fill="#000" font-family="Liberation Sans" >f</text>
<line x1="510.73" y1="358.5" x2="510.73" y2="474.5" stroke="#dedede" stroke-width="0.8"/>
<line x1="565.19" y1="358.5" x2="565.19" y2="474.5" stroke="#dedede" stroke-width="0.8"/>
<line x1="619.64" y1="358.5" x2="619.64" y2="474.5" stroke="#dedede" stroke-width="0.8"/>
<line x1="483.5" y1="435.83" x2="674.1" y2="435.83" stroke="#dedede" stroke-width="0.8"/>
<line x1="483.5" y1="397.17" x2="674.1" y2="397.17" stroke="#dedede" stroke-width="0.8"/>
<line x1="535.51" y1="360.8" x2="535.51" y2="474.5" stroke="#e4202a" stroke-width="1.6" stroke-dasharray="5.7,4.15"/>
<line x1="655.86" y1="360.8" x2="655.86" y2="474.5" stroke="#7a7a7a" stroke-width="1.5" stroke-dasharray="5.6,4.25"/>
<polyline points="544.49,475.66 619.64,401.81 620,402.16 620.36,402.51 620.72,402.86 621.07,403.22 621.43,403.57 621.79,403.92 622.15,404.27 622.5,404.63 622.86,404.98 623.22,405.33 623.58,405.68 623.93,406.04 624.29,406.39 624.65,406.74 625.01,407.09 625.36,407.45 625.72,407.8 626.08,408.15 626.44,408.5 626.79,408.86 627.15,409.21 627.51,409.56 627.87,409.91 628.22,410.27 628.58,410.62 628.94,410.97 629.3,411.33 629.65,411.68 630.01,412.03 630.37,412.39 630.73,412.74 631.08,413.1 631.44,413.45 631.8,413.81 632.16,414.17 632.51,414.53 632.87,414.89 633.23,415.25 633.59,415.61 633.94,415.97 634.3,416.34 634.66,416.7 635.02,417.07 635.37,417.44 635.73,417.82 636.09,418.2 636.45,418.58 636.81,418.96 637.16,419.35 637.52,419.75 637.88,420.15 638.24,420.55 638.59,420.96 638.95,421.38 639.31,421.81 639.67,422.24 640.02,422.69 640.38,423.14 640.74,423.61 641.1,424.09 641.45,424.58 641.81,425.09 642.17,425.61 642.53,426.15 642.88,426.7 643.24,427.28 643.6,427.88 643.96,428.5 644.31,429.15 644.67,429.82 645.03,430.52 645.39,431.25 645.74,432.02 646.1,432.82 646.46,433.65 646.82,434.53 647.17,435.45 647.53,436.42 647.89,437.44 648.25,438.51 648.6,439.63 648.96,440.82 649.32,442.07 649.68,443.38 650.03,444.77 650.39,446.23 650.75,447.77 651.11,449.4 651.46,451.11 651.82,452.93 652.18,454.84 652.54,456.86 652.89,458.99 653.25,461.24 653.61,463.61 653.97,466.12 654.32,468.76 654.68,471.55 655.04,474.5" fill="none" stroke="#f25a52" stroke-width="1.4"/>
<rect x="483.5" y="358.5" width="190.6" height="116" fill="none" stroke="#262626" stroke-width="1"/>
<path d="M483.5,474.5 L483.5,476.3 M483.5,358.5 L483.5,356.7 M497.11,474.5 L497.11,476.3 M497.11,358.5 L497.11,356.7 M510.73,474.5 L510.73,477.5 M510.73,358.5 L510.73,355.5 M524.34,474.5 L524.34,476.3 M524.34,358.5 L524.34,356.7 M537.96,474.5 L537.96,476.3 M537.96,358.5 L537.96,356.7 M551.57,474.5 L551.57,476.3 M551.57,358.5 L551.57,356.7 M565.19,474.5 L565.19,477.5 M565.19,358.5 L565.19,355.5 M578.8,474.5 L578.8,476.3 M578.8,358.5 L578.8,356.7 M592.41,474.5 L592.41,476.3 M592.41,358.5 L592.41,356.7 M606.03,474.5 L606.03,476.3 M606.03,358.5 L606.03,356.7 M619.64,474.5 L619.64,477.5 M619.64,358.5 L619.64,355.5 M633.26,474.5 L633.26,476.3 M633.26,358.5 L633.26,356.7 M646.87,474.5 L646.87,476.3 M646.87,358.5 L646.87,356.7 M660.49,474.5 L660.49,476.3 M660.49,358.5 L660.49,356.7 M674.1,474.5 L674.1,477.5 M674.1,358.5 L674.1,355.5 M483.5,474.5 L480.5,474.5 M674.1,474.5 L677.1,474.5 M483.5,466.77 L481.7,466.77 M674.1,466.77 L675.9,466.77 M483.5,459.03 L481.7,459.03 M674.1,459.03 L675.9,459.03 M483.5,451.3 L481.7,451.3 M674.1,451.3 L675.9,451.3 M483.5,443.57 L481.7,443.57 M674.1,443.57 L675.9,443.57 M483.5,435.83 L480.5,435.83 M674.1,435.83 L677.1,435.83 M483.5,428.1 L481.7,428.1 M674.1,428.1 L675.9,428.1 M483.5,420.37 L481.7,420.37 M674.1,420.37 L675.9,420.37 M483.5,412.63 L481.7,412.63 M674.1,412.63 L675.9,412.63 M483.5,404.9 L481.7,404.9 M674.1,404.9 L675.9,404.9 M483.5,397.17 L480.5,397.17 M674.1,397.17 L677.1,397.17 M483.5,389.43 L481.7,389.43 M674.1,389.43 L675.9,389.43 M483.5,381.7 L481.7,381.7 M674.1,381.7 L675.9,381.7 M483.5,373.97 L481.7,373.97 M674.1,373.97 L675.9,373.97 M483.5,366.23 L481.7,366.23 M674.1,366.23 L675.9,366.23 M483.5,358.5 L480.5,358.5 M674.1,358.5 L677.1,358.5" stroke="#262626" stroke-width="0.8"/>
<text x="510.73" y="487.9" font-size="10.2" text-anchor="middle" font-weight="normal" font-style="normal" fill="#262626" font-family="Liberation Sans" >1520</text>
<text x="565.19" y="487.9" font-size="10.2" text-anchor="middle" font-weight="normal" font-style="normal" fill="#262626" font-family="Liberation Sans" >1540</text>
<text x="619.64" y="487.9" font-size="10.2" text-anchor="middle" font-weight="normal" font-style="normal" fill="#262626" font-family="Liberation Sans" >1560</text>
<text x="674.1" y="487.9" font-size="10.2" text-anchor="middle" font-weight="normal" font-style="normal" fill="#262626" font-family="Liberation Sans" >1580</text>
<text x="478.9" y="478.2" font-size="10.2" text-anchor="end" font-weight="normal" font-style="normal" fill="#262626" font-family="Liberation Sans" >-20</text>
<text x="478.9" y="439.53" font-size="10.2" text-anchor="end" font-weight="normal" font-style="normal" fill="#262626" font-family="Liberation Sans" >-10</text>
<text x="478.9" y="400.87" font-size="10.2" text-anchor="end" font-weight="normal" font-style="normal" fill="#262626" font-family="Liberation Sans" >0</text>
<text x="478.9" y="362.2" font-size="10.2" text-anchor="end" font-weight="normal" font-style="normal" fill="#262626" font-family="Liberation Sans" >10</text>
<text x="578.8" y="499.1" font-size="9.6" text-anchor="middle" font-weight="normal" font-style="normal" fill="#262626" font-family="Liberation Sans" ><tspan font-style="italic">λ</tspan> [nm]</text>
<text y="373.6" font-size="13" font-family="Liberation Serif" fill="#1a1a1a" stroke="#1a1a1a" stroke-width="0.12"><tspan x="547">@</tspan><tspan font-style="italic">λ</tspan><tspan x="567.6" font-size="13.5" stroke-width="0.1">=</tspan><tspan x="579.4" letter-spacing="-0.1">1560</tspan><tspan x="608.6" font-style="italic">nm</tspan></text>
<text x="456.2" y="348.9" font-size="18" text-anchor="start" font-weight="bold" font-style="normal" fill="#000" font-family="Liberation Serif" >g</text>
<text x="9.5" y="418" font-size="1" text-anchor="start" font-weight="normal" font-style="normal" fill="#262626" font-family="Liberation Sans" ></text>
<text transform="translate(12.3,419.7) rotate(-90)" font-size="10.3" font-family="Liberation Sans" fill="#262626" text-anchor="middle">Optical power [dB]</text>
<text x="118.6" y="453.6" font-size="8.8" text-anchor="middle" font-weight="bold" font-style="normal" fill="#e0242a" font-family="Liberation Sans" >Dispersion</text>
<text x="118.6" y="464.8" font-size="8.8" text-anchor="middle" font-weight="bold" font-style="normal" fill="#e0242a" font-family="Liberation Sans" >limit</text>
<text x="623.8" y="455.2" font-size="8.8" text-anchor="middle" font-weight="bold" font-style="normal" fill="#6e6e6e" font-family="Liberation Sans" >Q factor</text>
<text x="623.5" y="467.3" font-size="8.8" text-anchor="middle" font-weight="bold" font-style="normal" fill="#6e6e6e" font-family="Liberation Sans" >limit</text></svg></body></html>
